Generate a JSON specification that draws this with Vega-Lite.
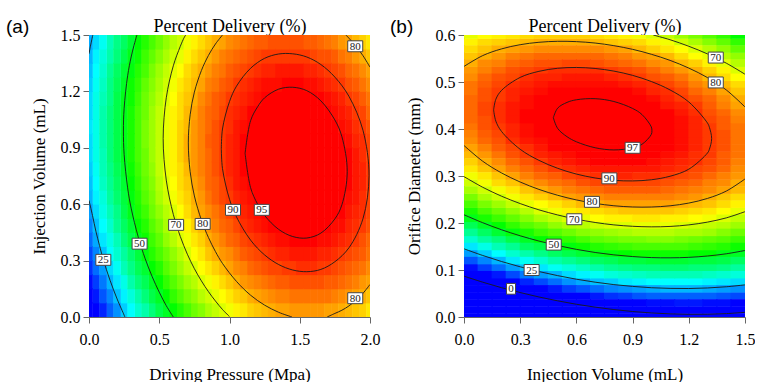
{
"$schema":"https://vega.github.io/schema/vega-lite/v6.json",
"padding":{"left":6,"top":17,"right":0,"bottom":0},
"config":{"view":{"stroke":null},"axis":{"labelFont":"Liberation Serif, Times New Roman, serif","labelFontSize":16,"labelColor":"#000","titleFont":"Liberation Serif, Times New Roman, serif","titleFontSize":17,"titleFontWeight":"normal","titleColor":"#000","tickColor":"#666","domainColor":"#666","tickSize":6,"grid":false,"labelFlush":false}},
"datasets":{
"a":[
{"x":0.05,"y":0.0375,"v":8},{"x":0.05,"y":0.1125,"v":12},{"x":0.05,"y":0.1875,"v":15},{"x":0.05,"y":0.2625,"v":19},{"x":0.05,"y":0.3375,"v":21},{"x":0.05,"y":0.4125,"v":24},{"x":0.05,"y":0.4875,"v":26},{"x":0.05,"y":0.5625,"v":28},{"x":0.05,"y":0.6375,"v":30},{"x":0.05,"y":0.7125,"v":31},{"x":0.05,"y":0.7875,"v":32},{"x":0.05,"y":0.8625,"v":33},{"x":0.05,"y":0.9375,"v":33},{"x":0.05,"y":1.0125,"v":33},{"x":0.05,"y":1.0875,"v":33},{"x":0.05,"y":1.1625,"v":33},{"x":0.05,"y":1.2375,"v":32},{"x":0.05,"y":1.3125,"v":31},{"x":0.05,"y":1.3875,"v":30},{"x":0.05,"y":1.4625,"v":28},
{"x":0.15,"y":0.0375,"v":18},{"x":0.15,"y":0.1125,"v":21},{"x":0.15,"y":0.1875,"v":25},{"x":0.15,"y":0.2625,"v":28},{"x":0.15,"y":0.3375,"v":31},{"x":0.15,"y":0.4125,"v":33},{"x":0.15,"y":0.4875,"v":35},{"x":0.15,"y":0.5625,"v":37},{"x":0.15,"y":0.6375,"v":39},{"x":0.15,"y":0.7125,"v":40},{"x":0.15,"y":0.7875,"v":41},{"x":0.15,"y":0.8625,"v":42},{"x":0.15,"y":0.9375,"v":42},{"x":0.15,"y":1.0125,"v":42},{"x":0.15,"y":1.0875,"v":42},{"x":0.15,"y":1.1625,"v":41},{"x":0.15,"y":1.2375,"v":41},{"x":0.15,"y":1.3125,"v":40},{"x":0.15,"y":1.3875,"v":38},{"x":0.15,"y":1.4625,"v":37},
{"x":0.25,"y":0.0375,"v":27},{"x":0.25,"y":0.1125,"v":30},{"x":0.25,"y":0.1875,"v":33},{"x":0.25,"y":0.2625,"v":37},{"x":0.25,"y":0.3375,"v":39},{"x":0.25,"y":0.4125,"v":42},{"x":0.25,"y":0.4875,"v":44},{"x":0.25,"y":0.5625,"v":46},{"x":0.25,"y":0.6375,"v":47},{"x":0.25,"y":0.7125,"v":48},{"x":0.25,"y":0.7875,"v":49},{"x":0.25,"y":0.8625,"v":50},{"x":0.25,"y":0.9375,"v":50},{"x":0.25,"y":1.0125,"v":50},{"x":0.25,"y":1.0875,"v":50},{"x":0.25,"y":1.1625,"v":50},{"x":0.25,"y":1.2375,"v":49},{"x":0.25,"y":1.3125,"v":48},{"x":0.25,"y":1.3875,"v":46},{"x":0.25,"y":1.4625,"v":44},
{"x":0.35,"y":0.0375,"v":35},{"x":0.35,"y":0.1125,"v":38},{"x":0.35,"y":0.1875,"v":42},{"x":0.35,"y":0.2625,"v":45},{"x":0.35,"y":0.3375,"v":47},{"x":0.35,"y":0.4125,"v":50},{"x":0.35,"y":0.4875,"v":52},{"x":0.35,"y":0.5625,"v":54},{"x":0.35,"y":0.6375,"v":55},{"x":0.35,"y":0.7125,"v":56},{"x":0.35,"y":0.7875,"v":57},{"x":0.35,"y":0.8625,"v":58},{"x":0.35,"y":0.9375,"v":58},{"x":0.35,"y":1.0125,"v":58},{"x":0.35,"y":1.0875,"v":58},{"x":0.35,"y":1.1625,"v":57},{"x":0.35,"y":1.2375,"v":56},{"x":0.35,"y":1.3125,"v":55},{"x":0.35,"y":1.3875,"v":53},{"x":0.35,"y":1.4625,"v":52},
{"x":0.45,"y":0.0375,"v":42},{"x":0.45,"y":0.1125,"v":46},{"x":0.45,"y":0.1875,"v":49},{"x":0.45,"y":0.2625,"v":52},{"x":0.45,"y":0.3375,"v":55},{"x":0.45,"y":0.4125,"v":57},{"x":0.45,"y":0.4875,"v":59},{"x":0.45,"y":0.5625,"v":61},{"x":0.45,"y":0.6375,"v":62},{"x":0.45,"y":0.7125,"v":63},{"x":0.45,"y":0.7875,"v":64},{"x":0.45,"y":0.8625,"v":65},{"x":0.45,"y":0.9375,"v":65},{"x":0.45,"y":1.0125,"v":65},{"x":0.45,"y":1.0875,"v":65},{"x":0.45,"y":1.1625,"v":64},{"x":0.45,"y":1.2375,"v":63},{"x":0.45,"y":1.3125,"v":62},{"x":0.45,"y":1.3875,"v":60},{"x":0.45,"y":1.4625,"v":58},
{"x":0.55,"y":0.0375,"v":49},{"x":0.55,"y":0.1125,"v":52},{"x":0.55,"y":0.1875,"v":56},{"x":0.55,"y":0.2625,"v":59},{"x":0.55,"y":0.3375,"v":61},{"x":0.55,"y":0.4125,"v":64},{"x":0.55,"y":0.4875,"v":66},{"x":0.55,"y":0.5625,"v":67},{"x":0.55,"y":0.6375,"v":69},{"x":0.55,"y":0.7125,"v":70},{"x":0.55,"y":0.7875,"v":71},{"x":0.55,"y":0.8625,"v":71},{"x":0.55,"y":0.9375,"v":71},{"x":0.55,"y":1.0125,"v":71},{"x":0.55,"y":1.0875,"v":71},{"x":0.55,"y":1.1625,"v":70},{"x":0.55,"y":1.2375,"v":69},{"x":0.55,"y":1.3125,"v":68},{"x":0.55,"y":1.3875,"v":66},{"x":0.55,"y":1.4625,"v":64},
{"x":0.65,"y":0.0375,"v":55},{"x":0.65,"y":0.1125,"v":59},{"x":0.65,"y":0.1875,"v":62},{"x":0.65,"y":0.2625,"v":65},{"x":0.65,"y":0.3375,"v":67},{"x":0.65,"y":0.4125,"v":70},{"x":0.65,"y":0.4875,"v":72},{"x":0.65,"y":0.5625,"v":73},{"x":0.65,"y":0.6375,"v":75},{"x":0.65,"y":0.7125,"v":76},{"x":0.65,"y":0.7875,"v":76},{"x":0.65,"y":0.8625,"v":77},{"x":0.65,"y":0.9375,"v":77},{"x":0.65,"y":1.0125,"v":77},{"x":0.65,"y":1.0875,"v":76},{"x":0.65,"y":1.1625,"v":76},{"x":0.65,"y":1.2375,"v":75},{"x":0.65,"y":1.3125,"v":73},{"x":0.65,"y":1.3875,"v":71},{"x":0.65,"y":1.4625,"v":69},
{"x":0.75,"y":0.0375,"v":61},{"x":0.75,"y":0.1125,"v":64},{"x":0.75,"y":0.1875,"v":67},{"x":0.75,"y":0.2625,"v":70},{"x":0.75,"y":0.3375,"v":73},{"x":0.75,"y":0.4125,"v":75},{"x":0.75,"y":0.4875,"v":77},{"x":0.75,"y":0.5625,"v":79},{"x":0.75,"y":0.6375,"v":80},{"x":0.75,"y":0.7125,"v":81},{"x":0.75,"y":0.7875,"v":82},{"x":0.75,"y":0.8625,"v":82},{"x":0.75,"y":0.9375,"v":82},{"x":0.75,"y":1.0125,"v":82},{"x":0.75,"y":1.0875,"v":81},{"x":0.75,"y":1.1625,"v":80},{"x":0.75,"y":1.2375,"v":79},{"x":0.75,"y":1.3125,"v":78},{"x":0.75,"y":1.3875,"v":76},{"x":0.75,"y":1.4625,"v":74},
{"x":0.85,"y":0.0375,"v":66},{"x":0.85,"y":0.1125,"v":69},{"x":0.85,"y":0.1875,"v":72},{"x":0.85,"y":0.2625,"v":75},{"x":0.85,"y":0.3375,"v":78},{"x":0.85,"y":0.4125,"v":80},{"x":0.85,"y":0.4875,"v":82},{"x":0.85,"y":0.5625,"v":83},{"x":0.85,"y":0.6375,"v":85},{"x":0.85,"y":0.7125,"v":86},{"x":0.85,"y":0.7875,"v":86},{"x":0.85,"y":0.8625,"v":86},{"x":0.85,"y":0.9375,"v":87},{"x":0.85,"y":1.0125,"v":86},{"x":0.85,"y":1.0875,"v":86},{"x":0.85,"y":1.1625,"v":85},{"x":0.85,"y":1.2375,"v":84},{"x":0.85,"y":1.3125,"v":82},{"x":0.85,"y":1.3875,"v":80},{"x":0.85,"y":1.4625,"v":78},
{"x":0.95,"y":0.0375,"v":70},{"x":0.95,"y":0.1125,"v":73},{"x":0.95,"y":0.1875,"v":76},{"x":0.95,"y":0.2625,"v":79},{"x":0.95,"y":0.3375,"v":82},{"x":0.95,"y":0.4125,"v":84},{"x":0.95,"y":0.4875,"v":86},{"x":0.95,"y":0.5625,"v":87},{"x":0.95,"y":0.6375,"v":89},{"x":0.95,"y":0.7125,"v":89},{"x":0.95,"y":0.7875,"v":90},{"x":0.95,"y":0.8625,"v":90},{"x":0.95,"y":0.9375,"v":90},{"x":0.95,"y":1.0125,"v":90},{"x":0.95,"y":1.0875,"v":89},{"x":0.95,"y":1.1625,"v":88},{"x":0.95,"y":1.2375,"v":87},{"x":0.95,"y":1.3125,"v":85},{"x":0.95,"y":1.3875,"v":84},{"x":0.95,"y":1.4625,"v":81},
{"x":1.05,"y":0.0375,"v":74},{"x":1.05,"y":0.1125,"v":77},{"x":1.05,"y":0.1875,"v":80},{"x":1.05,"y":0.2625,"v":83},{"x":1.05,"y":0.3375,"v":85},{"x":1.05,"y":0.4125,"v":87},{"x":1.05,"y":0.4875,"v":89},{"x":1.05,"y":0.5625,"v":91},{"x":1.05,"y":0.6375,"v":92},{"x":1.05,"y":0.7125,"v":93},{"x":1.05,"y":0.7875,"v":93},{"x":1.05,"y":0.8625,"v":93},{"x":1.05,"y":0.9375,"v":93},{"x":1.05,"y":1.0125,"v":93},{"x":1.05,"y":1.0875,"v":92},{"x":1.05,"y":1.1625,"v":91},{"x":1.05,"y":1.2375,"v":90},{"x":1.05,"y":1.3125,"v":88},{"x":1.05,"y":1.3875,"v":86},{"x":1.05,"y":1.4625,"v":84},
{"x":1.15,"y":0.0375,"v":77},{"x":1.15,"y":0.1125,"v":80},{"x":1.15,"y":0.1875,"v":83},{"x":1.15,"y":0.2625,"v":86},{"x":1.15,"y":0.3375,"v":88},{"x":1.15,"y":0.4125,"v":90},{"x":1.15,"y":0.4875,"v":92},{"x":1.15,"y":0.5625,"v":93},{"x":1.15,"y":0.6375,"v":94},{"x":1.15,"y":0.7125,"v":95},{"x":1.15,"y":0.7875,"v":96},{"x":1.15,"y":0.8625,"v":96},{"x":1.15,"y":0.9375,"v":96},{"x":1.15,"y":1.0125,"v":95},{"x":1.15,"y":1.0875,"v":95},{"x":1.15,"y":1.1625,"v":93},{"x":1.15,"y":1.2375,"v":92},{"x":1.15,"y":1.3125,"v":90},{"x":1.15,"y":1.3875,"v":88},{"x":1.15,"y":1.4625,"v":86},
{"x":1.25,"y":0.0375,"v":79},{"x":1.25,"y":0.1125,"v":82},{"x":1.25,"y":0.1875,"v":85},{"x":1.25,"y":0.2625,"v":88},{"x":1.25,"y":0.3375,"v":90},{"x":1.25,"y":0.4125,"v":92},{"x":1.25,"y":0.4875,"v":94},{"x":1.25,"y":0.5625,"v":95},{"x":1.25,"y":0.6375,"v":97},{"x":1.25,"y":0.7125,"v":97},{"x":1.25,"y":0.7875,"v":98},{"x":1.25,"y":0.8625,"v":98},{"x":1.25,"y":0.9375,"v":98},{"x":1.25,"y":1.0125,"v":97},{"x":1.25,"y":1.0875,"v":96},{"x":1.25,"y":1.1625,"v":95},{"x":1.25,"y":1.2375,"v":94},{"x":1.25,"y":1.3125,"v":92},{"x":1.25,"y":1.3875,"v":90},{"x":1.25,"y":1.4625,"v":87},
{"x":1.35,"y":0.0375,"v":81},{"x":1.35,"y":0.1125,"v":84},{"x":1.35,"y":0.1875,"v":87},{"x":1.35,"y":0.2625,"v":89},{"x":1.35,"y":0.3375,"v":92},{"x":1.35,"y":0.4125,"v":94},{"x":1.35,"y":0.4875,"v":95},{"x":1.35,"y":0.5625,"v":97},{"x":1.35,"y":0.6375,"v":98},{"x":1.35,"y":0.7125,"v":98},{"x":1.35,"y":0.7875,"v":99},{"x":1.35,"y":0.8625,"v":99},{"x":1.35,"y":0.9375,"v":99},{"x":1.35,"y":1.0125,"v":98},{"x":1.35,"y":1.0875,"v":97},{"x":1.35,"y":1.1625,"v":96},{"x":1.35,"y":1.2375,"v":94},{"x":1.35,"y":1.3125,"v":93},{"x":1.35,"y":1.3875,"v":90},{"x":1.35,"y":1.4625,"v":88},
{"x":1.45,"y":0.0375,"v":82},{"x":1.45,"y":0.1125,"v":85},{"x":1.45,"y":0.1875,"v":88},{"x":1.45,"y":0.2625,"v":90},{"x":1.45,"y":0.3375,"v":93},{"x":1.45,"y":0.4125,"v":95},{"x":1.45,"y":0.4875,"v":96},{"x":1.45,"y":0.5625,"v":98},{"x":1.45,"y":0.6375,"v":99},{"x":1.45,"y":0.7125,"v":99},{"x":1.45,"y":0.7875,"v":100},{"x":1.45,"y":0.8625,"v":100},{"x":1.45,"y":0.9375,"v":99},{"x":1.45,"y":1.0125,"v":99},{"x":1.45,"y":1.0875,"v":98},{"x":1.45,"y":1.1625,"v":96},{"x":1.45,"y":1.2375,"v":95},{"x":1.45,"y":1.3125,"v":93},{"x":1.45,"y":1.3875,"v":90},{"x":1.45,"y":1.4625,"v":88},
{"x":1.55,"y":0.0375,"v":82},{"x":1.55,"y":0.1125,"v":85},{"x":1.55,"y":0.1875,"v":88},{"x":1.55,"y":0.2625,"v":91},{"x":1.55,"y":0.3375,"v":93},{"x":1.55,"y":0.4125,"v":95},{"x":1.55,"y":0.4875,"v":96},{"x":1.55,"y":0.5625,"v":98},{"x":1.55,"y":0.6375,"v":99},{"x":1.55,"y":0.7125,"v":99},{"x":1.55,"y":0.7875,"v":99},{"x":1.55,"y":0.8625,"v":99},{"x":1.55,"y":0.9375,"v":99},{"x":1.55,"y":1.0125,"v":98},{"x":1.55,"y":1.0875,"v":97},{"x":1.55,"y":1.1625,"v":96},{"x":1.55,"y":1.2375,"v":94},{"x":1.55,"y":1.3125,"v":92},{"x":1.55,"y":1.3875,"v":90},{"x":1.55,"y":1.4625,"v":87},
{"x":1.65,"y":0.0375,"v":82},{"x":1.65,"y":0.1125,"v":85},{"x":1.65,"y":0.1875,"v":88},{"x":1.65,"y":0.2625,"v":90},{"x":1.65,"y":0.3375,"v":92},{"x":1.65,"y":0.4125,"v":94},{"x":1.65,"y":0.4875,"v":96},{"x":1.65,"y":0.5625,"v":97},{"x":1.65,"y":0.6375,"v":98},{"x":1.65,"y":0.7125,"v":98},{"x":1.65,"y":0.7875,"v":99},{"x":1.65,"y":0.8625,"v":98},{"x":1.65,"y":0.9375,"v":98},{"x":1.65,"y":1.0125,"v":97},{"x":1.65,"y":1.0875,"v":96},{"x":1.65,"y":1.1625,"v":95},{"x":1.65,"y":1.2375,"v":93},{"x":1.65,"y":1.3125,"v":91},{"x":1.65,"y":1.3875,"v":88},{"x":1.65,"y":1.4625,"v":86},
{"x":1.75,"y":0.0375,"v":81},{"x":1.75,"y":0.1125,"v":84},{"x":1.75,"y":0.1875,"v":87},{"x":1.75,"y":0.2625,"v":89},{"x":1.75,"y":0.3375,"v":91},{"x":1.75,"y":0.4125,"v":93},{"x":1.75,"y":0.4875,"v":94},{"x":1.75,"y":0.5625,"v":96},{"x":1.75,"y":0.6375,"v":96},{"x":1.75,"y":0.7125,"v":97},{"x":1.75,"y":0.7875,"v":97},{"x":1.75,"y":0.8625,"v":97},{"x":1.75,"y":0.9375,"v":96},{"x":1.75,"y":1.0125,"v":96},{"x":1.75,"y":1.0875,"v":94},{"x":1.75,"y":1.1625,"v":93},{"x":1.75,"y":1.2375,"v":91},{"x":1.75,"y":1.3125,"v":89},{"x":1.75,"y":1.3875,"v":87},{"x":1.75,"y":1.4625,"v":84},
{"x":1.85,"y":0.0375,"v":79},{"x":1.85,"y":0.1125,"v":82},{"x":1.85,"y":0.1875,"v":85},{"x":1.85,"y":0.2625,"v":87},{"x":1.85,"y":0.3375,"v":89},{"x":1.85,"y":0.4125,"v":91},{"x":1.85,"y":0.4875,"v":92},{"x":1.85,"y":0.5625,"v":93},{"x":1.85,"y":0.6375,"v":94},{"x":1.85,"y":0.7125,"v":95},{"x":1.85,"y":0.7875,"v":95},{"x":1.85,"y":0.8625,"v":95},{"x":1.85,"y":0.9375,"v":94},{"x":1.85,"y":1.0125,"v":93},{"x":1.85,"y":1.0875,"v":92},{"x":1.85,"y":1.1625,"v":90},{"x":1.85,"y":1.2375,"v":88},{"x":1.85,"y":1.3125,"v":86},{"x":1.85,"y":1.3875,"v":84},{"x":1.85,"y":1.4625,"v":81},
{"x":1.95,"y":0.0375,"v":77},{"x":1.95,"y":0.1125,"v":80},{"x":1.95,"y":0.1875,"v":82},{"x":1.95,"y":0.2625,"v":85},{"x":1.95,"y":0.3375,"v":87},{"x":1.95,"y":0.4125,"v":88},{"x":1.95,"y":0.4875,"v":90},{"x":1.95,"y":0.5625,"v":91},{"x":1.95,"y":0.6375,"v":91},{"x":1.95,"y":0.7125,"v":92},{"x":1.95,"y":0.7875,"v":92},{"x":1.95,"y":0.8625,"v":91},{"x":1.95,"y":0.9375,"v":91},{"x":1.95,"y":1.0125,"v":90},{"x":1.95,"y":1.0875,"v":89},{"x":1.95,"y":1.1625,"v":87},{"x":1.95,"y":1.2375,"v":85},{"x":1.95,"y":1.3125,"v":83},{"x":1.95,"y":1.3875,"v":80},{"x":1.95,"y":1.4625,"v":77},
{"x":0,"y":0.0375,"v":3},{"x":0,"y":0.1125,"v":7},{"x":0,"y":0.1875,"v":11},{"x":0,"y":0.2625,"v":14},{"x":0,"y":0.3375,"v":16},{"x":0,"y":0.4125,"v":19},{"x":0,"y":0.4875,"v":21},{"x":0,"y":0.5625,"v":23},{"x":0,"y":0.6375,"v":25},{"x":0,"y":0.7125,"v":26},{"x":0,"y":0.7875,"v":27},{"x":0,"y":0.8625,"v":28},{"x":0,"y":0.9375,"v":28},{"x":0,"y":1.0125,"v":29},{"x":0,"y":1.0875,"v":28},{"x":0,"y":1.1625,"v":28},{"x":0,"y":1.2375,"v":27},{"x":0,"y":1.3125,"v":26},{"x":0,"y":1.3875,"v":25},{"x":0,"y":1.4625,"v":24},
{"x":0.1,"y":0.0375,"v":13},{"x":0.1,"y":0.1125,"v":17},{"x":0.1,"y":0.1875,"v":20},{"x":0.1,"y":0.2625,"v":23},{"x":0.1,"y":0.3375,"v":26},{"x":0.1,"y":0.4125,"v":29},{"x":0.1,"y":0.4875,"v":31},{"x":0.1,"y":0.5625,"v":33},{"x":0.1,"y":0.6375,"v":34},{"x":0.1,"y":0.7125,"v":36},{"x":0.1,"y":0.7875,"v":37},{"x":0.1,"y":0.8625,"v":37},{"x":0.1,"y":0.9375,"v":38},{"x":0.1,"y":1.0125,"v":38},{"x":0.1,"y":1.0875,"v":38},{"x":0.1,"y":1.1625,"v":37},{"x":0.1,"y":1.2375,"v":36},{"x":0.1,"y":1.3125,"v":35},{"x":0.1,"y":1.3875,"v":34},{"x":0.1,"y":1.4625,"v":32},
{"x":0.2,"y":0.0375,"v":22},{"x":0.2,"y":0.1125,"v":26},{"x":0.2,"y":0.1875,"v":29},{"x":0.2,"y":0.2625,"v":32},{"x":0.2,"y":0.3375,"v":35},{"x":0.2,"y":0.4125,"v":37},{"x":0.2,"y":0.4875,"v":40},{"x":0.2,"y":0.5625,"v":41},{"x":0.2,"y":0.6375,"v":43},{"x":0.2,"y":0.7125,"v":44},{"x":0.2,"y":0.7875,"v":45},{"x":0.2,"y":0.8625,"v":46},{"x":0.2,"y":0.9375,"v":46},{"x":0.2,"y":1.0125,"v":46},{"x":0.2,"y":1.0875,"v":46},{"x":0.2,"y":1.1625,"v":46},{"x":0.2,"y":1.2375,"v":45},{"x":0.2,"y":1.3125,"v":44},{"x":0.2,"y":1.3875,"v":42},{"x":0.2,"y":1.4625,"v":41},
{"x":0.3,"y":0.0375,"v":31},{"x":0.3,"y":0.1125,"v":34},{"x":0.3,"y":0.1875,"v":38},{"x":0.3,"y":0.2625,"v":41},{"x":0.3,"y":0.3375,"v":43},{"x":0.3,"y":0.4125,"v":46},{"x":0.3,"y":0.4875,"v":48},{"x":0.3,"y":0.5625,"v":50},{"x":0.3,"y":0.6375,"v":51},{"x":0.3,"y":0.7125,"v":52},{"x":0.3,"y":0.7875,"v":53},{"x":0.3,"y":0.8625,"v":54},{"x":0.3,"y":0.9375,"v":54},{"x":0.3,"y":1.0125,"v":54},{"x":0.3,"y":1.0875,"v":54},{"x":0.3,"y":1.1625,"v":53},{"x":0.3,"y":1.2375,"v":53},{"x":0.3,"y":1.3125,"v":51},{"x":0.3,"y":1.3875,"v":50},{"x":0.3,"y":1.4625,"v":48},
{"x":0.4,"y":0.0375,"v":38},{"x":0.4,"y":0.1125,"v":42},{"x":0.4,"y":0.1875,"v":45},{"x":0.4,"y":0.2625,"v":48},{"x":0.4,"y":0.3375,"v":51},{"x":0.4,"y":0.4125,"v":53},{"x":0.4,"y":0.4875,"v":55},{"x":0.4,"y":0.5625,"v":57},{"x":0.4,"y":0.6375,"v":59},{"x":0.4,"y":0.7125,"v":60},{"x":0.4,"y":0.7875,"v":61},{"x":0.4,"y":0.8625,"v":61},{"x":0.4,"y":0.9375,"v":62},{"x":0.4,"y":1.0125,"v":62},{"x":0.4,"y":1.0875,"v":61},{"x":0.4,"y":1.1625,"v":61},{"x":0.4,"y":1.2375,"v":60},{"x":0.4,"y":1.3125,"v":58},{"x":0.4,"y":1.3875,"v":57},{"x":0.4,"y":1.4625,"v":55},
{"x":0.5,"y":0.0375,"v":46},{"x":0.5,"y":0.1125,"v":49},{"x":0.5,"y":0.1875,"v":52},{"x":0.5,"y":0.2625,"v":55},{"x":0.5,"y":0.3375,"v":58},{"x":0.5,"y":0.4125,"v":60},{"x":0.5,"y":0.4875,"v":62},{"x":0.5,"y":0.5625,"v":64},{"x":0.5,"y":0.6375,"v":66},{"x":0.5,"y":0.7125,"v":67},{"x":0.5,"y":0.7875,"v":68},{"x":0.5,"y":0.8625,"v":68},{"x":0.5,"y":0.9375,"v":68},{"x":0.5,"y":1.0125,"v":68},{"x":0.5,"y":1.0875,"v":68},{"x":0.5,"y":1.1625,"v":67},{"x":0.5,"y":1.2375,"v":66},{"x":0.5,"y":1.3125,"v":65},{"x":0.5,"y":1.3875,"v":63},{"x":0.5,"y":1.4625,"v":61},
{"x":0.6,"y":0.0375,"v":52},{"x":0.6,"y":0.1125,"v":56},{"x":0.6,"y":0.1875,"v":59},{"x":0.6,"y":0.2625,"v":62},{"x":0.6,"y":0.3375,"v":64},{"x":0.6,"y":0.4125,"v":67},{"x":0.6,"y":0.4875,"v":69},{"x":0.6,"y":0.5625,"v":70},{"x":0.6,"y":0.6375,"v":72},{"x":0.6,"y":0.7125,"v":73},{"x":0.6,"y":0.7875,"v":74},{"x":0.6,"y":0.8625,"v":74},{"x":0.6,"y":0.9375,"v":74},{"x":0.6,"y":1.0125,"v":74},{"x":0.6,"y":1.0875,"v":74},{"x":0.6,"y":1.1625,"v":73},{"x":0.6,"y":1.2375,"v":72},{"x":0.6,"y":1.3125,"v":71},{"x":0.6,"y":1.3875,"v":69},{"x":0.6,"y":1.4625,"v":67},
{"x":0.7,"y":0.0375,"v":58},{"x":0.7,"y":0.1125,"v":62},{"x":0.7,"y":0.1875,"v":65},{"x":0.7,"y":0.2625,"v":68},{"x":0.7,"y":0.3375,"v":70},{"x":0.7,"y":0.4125,"v":72},{"x":0.7,"y":0.4875,"v":74},{"x":0.7,"y":0.5625,"v":76},{"x":0.7,"y":0.6375,"v":77},{"x":0.7,"y":0.7125,"v":78},{"x":0.7,"y":0.7875,"v":79},{"x":0.7,"y":0.8625,"v":80},{"x":0.7,"y":0.9375,"v":80},{"x":0.7,"y":1.0125,"v":79},{"x":0.7,"y":1.0875,"v":79},{"x":0.7,"y":1.1625,"v":78},{"x":0.7,"y":1.2375,"v":77},{"x":0.7,"y":1.3125,"v":76},{"x":0.7,"y":1.3875,"v":74},{"x":0.7,"y":1.4625,"v":72},
{"x":0.8,"y":0.0375,"v":63},{"x":0.8,"y":0.1125,"v":67},{"x":0.8,"y":0.1875,"v":70},{"x":0.8,"y":0.2625,"v":73},{"x":0.8,"y":0.3375,"v":75},{"x":0.8,"y":0.4125,"v":77},{"x":0.8,"y":0.4875,"v":79},{"x":0.8,"y":0.5625,"v":81},{"x":0.8,"y":0.6375,"v":82},{"x":0.8,"y":0.7125,"v":83},{"x":0.8,"y":0.7875,"v":84},{"x":0.8,"y":0.8625,"v":84},{"x":0.8,"y":0.9375,"v":84},{"x":0.8,"y":1.0125,"v":84},{"x":0.8,"y":1.0875,"v":84},{"x":0.8,"y":1.1625,"v":83},{"x":0.8,"y":1.2375,"v":81},{"x":0.8,"y":1.3125,"v":80},{"x":0.8,"y":1.3875,"v":78},{"x":0.8,"y":1.4625,"v":76},
{"x":0.9,"y":0.0375,"v":68},{"x":0.9,"y":0.1125,"v":71},{"x":0.9,"y":0.1875,"v":74},{"x":0.9,"y":0.2625,"v":77},{"x":0.9,"y":0.3375,"v":80},{"x":0.9,"y":0.4125,"v":82},{"x":0.9,"y":0.4875,"v":84},{"x":0.9,"y":0.5625,"v":85},{"x":0.9,"y":0.6375,"v":87},{"x":0.9,"y":0.7125,"v":87},{"x":0.9,"y":0.7875,"v":88},{"x":0.9,"y":0.8625,"v":88},{"x":0.9,"y":0.9375,"v":88},{"x":0.9,"y":1.0125,"v":88},{"x":0.9,"y":1.0875,"v":87},{"x":0.9,"y":1.1625,"v":87},{"x":0.9,"y":1.2375,"v":85},{"x":0.9,"y":1.3125,"v":84},{"x":0.9,"y":1.3875,"v":82},{"x":0.9,"y":1.4625,"v":80},
{"x":1.0,"y":0.0375,"v":72},{"x":1.0,"y":0.1125,"v":75},{"x":1.0,"y":0.1875,"v":78},{"x":1.0,"y":0.2625,"v":81},{"x":1.0,"y":0.3375,"v":83},{"x":1.0,"y":0.4125,"v":86},{"x":1.0,"y":0.4875,"v":87},{"x":1.0,"y":0.5625,"v":89},{"x":1.0,"y":0.6375,"v":90},{"x":1.0,"y":0.7125,"v":91},{"x":1.0,"y":0.7875,"v":92},{"x":1.0,"y":0.8625,"v":92},{"x":1.0,"y":0.9375,"v":92},{"x":1.0,"y":1.0125,"v":91},{"x":1.0,"y":1.0875,"v":91},{"x":1.0,"y":1.1625,"v":90},{"x":1.0,"y":1.2375,"v":88},{"x":1.0,"y":1.3125,"v":87},{"x":1.0,"y":1.3875,"v":85},{"x":1.0,"y":1.4625,"v":83},
{"x":1.1,"y":0.0375,"v":75},{"x":1.1,"y":0.1125,"v":78},{"x":1.1,"y":0.1875,"v":82},{"x":1.1,"y":0.2625,"v":84},{"x":1.1,"y":0.3375,"v":87},{"x":1.1,"y":0.4125,"v":89},{"x":1.1,"y":0.4875,"v":91},{"x":1.1,"y":0.5625,"v":92},{"x":1.1,"y":0.6375,"v":93},{"x":1.1,"y":0.7125,"v":94},{"x":1.1,"y":0.7875,"v":95},{"x":1.1,"y":0.8625,"v":95},{"x":1.1,"y":0.9375,"v":95},{"x":1.1,"y":1.0125,"v":94},{"x":1.1,"y":1.0875,"v":93},{"x":1.1,"y":1.1625,"v":92},{"x":1.1,"y":1.2375,"v":91},{"x":1.1,"y":1.3125,"v":89},{"x":1.1,"y":1.3875,"v":87},{"x":1.1,"y":1.4625,"v":85},
{"x":1.2,"y":0.0375,"v":78},{"x":1.2,"y":0.1125,"v":81},{"x":1.2,"y":0.1875,"v":84},{"x":1.2,"y":0.2625,"v":87},{"x":1.2,"y":0.3375,"v":89},{"x":1.2,"y":0.4125,"v":91},{"x":1.2,"y":0.4875,"v":93},{"x":1.2,"y":0.5625,"v":94},{"x":1.2,"y":0.6375,"v":96},{"x":1.2,"y":0.7125,"v":96},{"x":1.2,"y":0.7875,"v":97},{"x":1.2,"y":0.8625,"v":97},{"x":1.2,"y":0.9375,"v":97},{"x":1.2,"y":1.0125,"v":96},{"x":1.2,"y":1.0875,"v":95},{"x":1.2,"y":1.1625,"v":94},{"x":1.2,"y":1.2375,"v":93},{"x":1.2,"y":1.3125,"v":91},{"x":1.2,"y":1.3875,"v":89},{"x":1.2,"y":1.4625,"v":87},
{"x":1.3,"y":0.0375,"v":80},{"x":1.3,"y":0.1125,"v":83},{"x":1.3,"y":0.1875,"v":86},{"x":1.3,"y":0.2625,"v":89},{"x":1.3,"y":0.3375,"v":91},{"x":1.3,"y":0.4125,"v":93},{"x":1.3,"y":0.4875,"v":95},{"x":1.3,"y":0.5625,"v":96},{"x":1.3,"y":0.6375,"v":97},{"x":1.3,"y":0.7125,"v":98},{"x":1.3,"y":0.7875,"v":98},{"x":1.3,"y":0.8625,"v":98},{"x":1.3,"y":0.9375,"v":98},{"x":1.3,"y":1.0125,"v":98},{"x":1.3,"y":1.0875,"v":97},{"x":1.3,"y":1.1625,"v":96},{"x":1.3,"y":1.2375,"v":94},{"x":1.3,"y":1.3125,"v":92},{"x":1.3,"y":1.3875,"v":90},{"x":1.3,"y":1.4625,"v":88},
{"x":1.4,"y":0.0375,"v":81},{"x":1.4,"y":0.1125,"v":84},{"x":1.4,"y":0.1875,"v":87},{"x":1.4,"y":0.2625,"v":90},{"x":1.4,"y":0.3375,"v":92},{"x":1.4,"y":0.4125,"v":94},{"x":1.4,"y":0.4875,"v":96},{"x":1.4,"y":0.5625,"v":97},{"x":1.4,"y":0.6375,"v":98},{"x":1.4,"y":0.7125,"v":99},{"x":1.4,"y":0.7875,"v":99},{"x":1.4,"y":0.8625,"v":99},{"x":1.4,"y":0.9375,"v":99},{"x":1.4,"y":1.0125,"v":98},{"x":1.4,"y":1.0875,"v":97},{"x":1.4,"y":1.1625,"v":96},{"x":1.4,"y":1.2375,"v":95},{"x":1.4,"y":1.3125,"v":93},{"x":1.4,"y":1.3875,"v":90},{"x":1.4,"y":1.4625,"v":88},
{"x":1.5,"y":0.0375,"v":82},{"x":1.5,"y":0.1125,"v":85},{"x":1.5,"y":0.1875,"v":88},{"x":1.5,"y":0.2625,"v":91},{"x":1.5,"y":0.3375,"v":93},{"x":1.5,"y":0.4125,"v":95},{"x":1.5,"y":0.4875,"v":96},{"x":1.5,"y":0.5625,"v":98},{"x":1.5,"y":0.6375,"v":99},{"x":1.5,"y":0.7125,"v":99},{"x":1.5,"y":0.7875,"v":100},{"x":1.5,"y":0.8625,"v":100},{"x":1.5,"y":0.9375,"v":99},{"x":1.5,"y":1.0125,"v":99},{"x":1.5,"y":1.0875,"v":98},{"x":1.5,"y":1.1625,"v":96},{"x":1.5,"y":1.2375,"v":95},{"x":1.5,"y":1.3125,"v":93},{"x":1.5,"y":1.3875,"v":90},{"x":1.5,"y":1.4625,"v":88},
{"x":1.6,"y":0.0375,"v":82},{"x":1.6,"y":0.1125,"v":85},{"x":1.6,"y":0.1875,"v":88},{"x":1.6,"y":0.2625,"v":91},{"x":1.6,"y":0.3375,"v":93},{"x":1.6,"y":0.4125,"v":95},{"x":1.6,"y":0.4875,"v":96},{"x":1.6,"y":0.5625,"v":97},{"x":1.6,"y":0.6375,"v":98},{"x":1.6,"y":0.7125,"v":99},{"x":1.6,"y":0.7875,"v":99},{"x":1.6,"y":0.8625,"v":99},{"x":1.6,"y":0.9375,"v":99},{"x":1.6,"y":1.0125,"v":98},{"x":1.6,"y":1.0875,"v":97},{"x":1.6,"y":1.1625,"v":95},{"x":1.6,"y":1.2375,"v":94},{"x":1.6,"y":1.3125,"v":92},{"x":1.6,"y":1.3875,"v":89},{"x":1.6,"y":1.4625,"v":87},
{"x":1.7,"y":0.0375,"v":81},{"x":1.7,"y":0.1125,"v":85},{"x":1.7,"y":0.1875,"v":87},{"x":1.7,"y":0.2625,"v":90},{"x":1.7,"y":0.3375,"v":92},{"x":1.7,"y":0.4125,"v":94},{"x":1.7,"y":0.4875,"v":95},{"x":1.7,"y":0.5625,"v":96},{"x":1.7,"y":0.6375,"v":97},{"x":1.7,"y":0.7125,"v":98},{"x":1.7,"y":0.7875,"v":98},{"x":1.7,"y":0.8625,"v":98},{"x":1.7,"y":0.9375,"v":97},{"x":1.7,"y":1.0125,"v":97},{"x":1.7,"y":1.0875,"v":95},{"x":1.7,"y":1.1625,"v":94},{"x":1.7,"y":1.2375,"v":92},{"x":1.7,"y":1.3125,"v":90},{"x":1.7,"y":1.3875,"v":88},{"x":1.7,"y":1.4625,"v":85},
{"x":1.8,"y":0.0375,"v":80},{"x":1.8,"y":0.1125,"v":83},{"x":1.8,"y":0.1875,"v":86},{"x":1.8,"y":0.2625,"v":88},{"x":1.8,"y":0.3375,"v":90},{"x":1.8,"y":0.4125,"v":92},{"x":1.8,"y":0.4875,"v":94},{"x":1.8,"y":0.5625,"v":95},{"x":1.8,"y":0.6375,"v":95},{"x":1.8,"y":0.7125,"v":96},{"x":1.8,"y":0.7875,"v":96},{"x":1.8,"y":0.8625,"v":96},{"x":1.8,"y":0.9375,"v":95},{"x":1.8,"y":1.0125,"v":94},{"x":1.8,"y":1.0875,"v":93},{"x":1.8,"y":1.1625,"v":92},{"x":1.8,"y":1.2375,"v":90},{"x":1.8,"y":1.3125,"v":88},{"x":1.8,"y":1.3875,"v":85},{"x":1.8,"y":1.4625,"v":82},
{"x":1.9,"y":0.0375,"v":78},{"x":1.9,"y":0.1125,"v":81},{"x":1.9,"y":0.1875,"v":84},{"x":1.9,"y":0.2625,"v":86},{"x":1.9,"y":0.3375,"v":88},{"x":1.9,"y":0.4125,"v":90},{"x":1.9,"y":0.4875,"v":91},{"x":1.9,"y":0.5625,"v":92},{"x":1.9,"y":0.6375,"v":93},{"x":1.9,"y":0.7125,"v":93},{"x":1.9,"y":0.7875,"v":93},{"x":1.9,"y":0.8625,"v":93},{"x":1.9,"y":0.9375,"v":92},{"x":1.9,"y":1.0125,"v":91},{"x":1.9,"y":1.0875,"v":90},{"x":1.9,"y":1.1625,"v":89},{"x":1.9,"y":1.2375,"v":87},{"x":1.9,"y":1.3125,"v":85},{"x":1.9,"y":1.3875,"v":82},{"x":1.9,"y":1.4625,"v":79},
{"x":2.0,"y":0.0375,"v":75},{"x":2.0,"y":0.1125,"v":78},{"x":2.0,"y":0.1875,"v":81},{"x":2.0,"y":0.2625,"v":83},{"x":2.0,"y":0.3375,"v":85},{"x":2.0,"y":0.4125,"v":86},{"x":2.0,"y":0.4875,"v":88},{"x":2.0,"y":0.5625,"v":89},{"x":2.0,"y":0.6375,"v":89},{"x":2.0,"y":0.7125,"v":90},{"x":2.0,"y":0.7875,"v":90},{"x":2.0,"y":0.8625,"v":89},{"x":2.0,"y":0.9375,"v":89},{"x":2.0,"y":1.0125,"v":88},{"x":2.0,"y":1.0875,"v":86},{"x":2.0,"y":1.1625,"v":85},{"x":2.0,"y":1.2375,"v":83},{"x":2.0,"y":1.3125,"v":81},{"x":2.0,"y":1.3875,"v":78},{"x":2.0,"y":1.4625,"v":75}
],
"b":[
{"x":0.0375,"y":0.015,"v":-34},{"x":0.0375,"y":0.045,"v":-18},{"x":0.0375,"y":0.075,"v":-3},{"x":0.0375,"y":0.105,"v":11},{"x":0.0375,"y":0.135,"v":23},{"x":0.0375,"y":0.165,"v":35},{"x":0.0375,"y":0.195,"v":45},{"x":0.0375,"y":0.225,"v":54},{"x":0.0375,"y":0.255,"v":62},{"x":0.0375,"y":0.285,"v":69},{"x":0.0375,"y":0.315,"v":75},{"x":0.0375,"y":0.345,"v":79},{"x":0.0375,"y":0.375,"v":83},{"x":0.0375,"y":0.405,"v":85},{"x":0.0375,"y":0.435,"v":86},{"x":0.0375,"y":0.465,"v":86},{"x":0.0375,"y":0.495,"v":85},{"x":0.0375,"y":0.525,"v":82},{"x":0.0375,"y":0.555,"v":78},{"x":0.0375,"y":0.585,"v":74},
{"x":0.1125,"y":0.015,"v":-30},{"x":0.1125,"y":0.045,"v":-14},{"x":0.1125,"y":0.075,"v":1},{"x":0.1125,"y":0.105,"v":15},{"x":0.1125,"y":0.135,"v":27},{"x":0.1125,"y":0.165,"v":39},{"x":0.1125,"y":0.195,"v":49},{"x":0.1125,"y":0.225,"v":58},{"x":0.1125,"y":0.255,"v":66},{"x":0.1125,"y":0.285,"v":72},{"x":0.1125,"y":0.315,"v":78},{"x":0.1125,"y":0.345,"v":82},{"x":0.1125,"y":0.375,"v":86},{"x":0.1125,"y":0.405,"v":88},{"x":0.1125,"y":0.435,"v":89},{"x":0.1125,"y":0.465,"v":88},{"x":0.1125,"y":0.495,"v":87},{"x":0.1125,"y":0.525,"v":84},{"x":0.1125,"y":0.555,"v":80},{"x":0.1125,"y":0.585,"v":76},
{"x":0.1875,"y":0.015,"v":-25},{"x":0.1875,"y":0.045,"v":-9},{"x":0.1875,"y":0.075,"v":5},{"x":0.1875,"y":0.105,"v":19},{"x":0.1875,"y":0.135,"v":31},{"x":0.1875,"y":0.165,"v":42},{"x":0.1875,"y":0.195,"v":52},{"x":0.1875,"y":0.225,"v":61},{"x":0.1875,"y":0.255,"v":69},{"x":0.1875,"y":0.285,"v":76},{"x":0.1875,"y":0.315,"v":81},{"x":0.1875,"y":0.345,"v":85},{"x":0.1875,"y":0.375,"v":88},{"x":0.1875,"y":0.405,"v":90},{"x":0.1875,"y":0.435,"v":91},{"x":0.1875,"y":0.465,"v":90},{"x":0.1875,"y":0.495,"v":89},{"x":0.1875,"y":0.525,"v":86},{"x":0.1875,"y":0.555,"v":82},{"x":0.1875,"y":0.585,"v":77},
{"x":0.2625,"y":0.015,"v":-21},{"x":0.2625,"y":0.045,"v":-5},{"x":0.2625,"y":0.075,"v":9},{"x":0.2625,"y":0.105,"v":23},{"x":0.2625,"y":0.135,"v":35},{"x":0.2625,"y":0.165,"v":46},{"x":0.2625,"y":0.195,"v":56},{"x":0.2625,"y":0.225,"v":64},{"x":0.2625,"y":0.255,"v":72},{"x":0.2625,"y":0.285,"v":78},{"x":0.2625,"y":0.315,"v":84},{"x":0.2625,"y":0.345,"v":88},{"x":0.2625,"y":0.375,"v":91},{"x":0.2625,"y":0.405,"v":92},{"x":0.2625,"y":0.435,"v":93},{"x":0.2625,"y":0.465,"v":92},{"x":0.2625,"y":0.495,"v":91},{"x":0.2625,"y":0.525,"v":88},{"x":0.2625,"y":0.555,"v":84},{"x":0.2625,"y":0.585,"v":78},
{"x":0.3375,"y":0.015,"v":-17},{"x":0.3375,"y":0.045,"v":-2},{"x":0.3375,"y":0.075,"v":13},{"x":0.3375,"y":0.105,"v":26},{"x":0.3375,"y":0.135,"v":38},{"x":0.3375,"y":0.165,"v":49},{"x":0.3375,"y":0.195,"v":59},{"x":0.3375,"y":0.225,"v":67},{"x":0.3375,"y":0.255,"v":75},{"x":0.3375,"y":0.285,"v":81},{"x":0.3375,"y":0.315,"v":86},{"x":0.3375,"y":0.345,"v":90},{"x":0.3375,"y":0.375,"v":93},{"x":0.3375,"y":0.405,"v":94},{"x":0.3375,"y":0.435,"v":95},{"x":0.3375,"y":0.465,"v":94},{"x":0.3375,"y":0.495,"v":92},{"x":0.3375,"y":0.525,"v":89},{"x":0.3375,"y":0.555,"v":85},{"x":0.3375,"y":0.585,"v":79},
{"x":0.4125,"y":0.015,"v":-14},{"x":0.4125,"y":0.045,"v":2},{"x":0.4125,"y":0.075,"v":16},{"x":0.4125,"y":0.105,"v":29},{"x":0.4125,"y":0.135,"v":41},{"x":0.4125,"y":0.165,"v":52},{"x":0.4125,"y":0.195,"v":61},{"x":0.4125,"y":0.225,"v":70},{"x":0.4125,"y":0.255,"v":77},{"x":0.4125,"y":0.285,"v":83},{"x":0.4125,"y":0.315,"v":88},{"x":0.4125,"y":0.345,"v":92},{"x":0.4125,"y":0.375,"v":94},{"x":0.4125,"y":0.405,"v":96},{"x":0.4125,"y":0.435,"v":96},{"x":0.4125,"y":0.465,"v":95},{"x":0.4125,"y":0.495,"v":93},{"x":0.4125,"y":0.525,"v":90},{"x":0.4125,"y":0.555,"v":86},{"x":0.4125,"y":0.585,"v":80},
{"x":0.4875,"y":0.015,"v":-10},{"x":0.4875,"y":0.045,"v":5},{"x":0.4875,"y":0.075,"v":19},{"x":0.4875,"y":0.105,"v":32},{"x":0.4875,"y":0.135,"v":44},{"x":0.4875,"y":0.165,"v":54},{"x":0.4875,"y":0.195,"v":64},{"x":0.4875,"y":0.225,"v":72},{"x":0.4875,"y":0.255,"v":79},{"x":0.4875,"y":0.285,"v":85},{"x":0.4875,"y":0.315,"v":90},{"x":0.4875,"y":0.345,"v":93},{"x":0.4875,"y":0.375,"v":96},{"x":0.4875,"y":0.405,"v":97},{"x":0.4875,"y":0.435,"v":97},{"x":0.4875,"y":0.465,"v":96},{"x":0.4875,"y":0.495,"v":94},{"x":0.4875,"y":0.525,"v":91},{"x":0.4875,"y":0.555,"v":86},{"x":0.4875,"y":0.585,"v":80},
{"x":0.5625,"y":0.015,"v":-8},{"x":0.5625,"y":0.045,"v":8},{"x":0.5625,"y":0.075,"v":22},{"x":0.5625,"y":0.105,"v":34},{"x":0.5625,"y":0.135,"v":46},{"x":0.5625,"y":0.165,"v":56},{"x":0.5625,"y":0.195,"v":66},{"x":0.5625,"y":0.225,"v":74},{"x":0.5625,"y":0.255,"v":81},{"x":0.5625,"y":0.285,"v":86},{"x":0.5625,"y":0.315,"v":91},{"x":0.5625,"y":0.345,"v":94},{"x":0.5625,"y":0.375,"v":97},{"x":0.5625,"y":0.405,"v":98},{"x":0.5625,"y":0.435,"v":98},{"x":0.5625,"y":0.465,"v":97},{"x":0.5625,"y":0.495,"v":94},{"x":0.5625,"y":0.525,"v":91},{"x":0.5625,"y":0.555,"v":86},{"x":0.5625,"y":0.585,"v":80},
{"x":0.6375,"y":0.015,"v":-5},{"x":0.6375,"y":0.045,"v":10},{"x":0.6375,"y":0.075,"v":24},{"x":0.6375,"y":0.105,"v":36},{"x":0.6375,"y":0.135,"v":48},{"x":0.6375,"y":0.165,"v":58},{"x":0.6375,"y":0.195,"v":67},{"x":0.6375,"y":0.225,"v":75},{"x":0.6375,"y":0.255,"v":82},{"x":0.6375,"y":0.285,"v":88},{"x":0.6375,"y":0.315,"v":92},{"x":0.6375,"y":0.345,"v":95},{"x":0.6375,"y":0.375,"v":97},{"x":0.6375,"y":0.405,"v":98},{"x":0.6375,"y":0.435,"v":98},{"x":0.6375,"y":0.465,"v":97},{"x":0.6375,"y":0.495,"v":94},{"x":0.6375,"y":0.525,"v":91},{"x":0.6375,"y":0.555,"v":86},{"x":0.6375,"y":0.585,"v":80},
{"x":0.7125,"y":0.015,"v":-3},{"x":0.7125,"y":0.045,"v":12},{"x":0.7125,"y":0.075,"v":26},{"x":0.7125,"y":0.105,"v":38},{"x":0.7125,"y":0.135,"v":50},{"x":0.7125,"y":0.165,"v":60},{"x":0.7125,"y":0.195,"v":69},{"x":0.7125,"y":0.225,"v":76},{"x":0.7125,"y":0.255,"v":83},{"x":0.7125,"y":0.285,"v":89},{"x":0.7125,"y":0.315,"v":93},{"x":0.7125,"y":0.345,"v":96},{"x":0.7125,"y":0.375,"v":98},{"x":0.7125,"y":0.405,"v":99},{"x":0.7125,"y":0.435,"v":98},{"x":0.7125,"y":0.465,"v":97},{"x":0.7125,"y":0.495,"v":94},{"x":0.7125,"y":0.525,"v":91},{"x":0.7125,"y":0.555,"v":86},{"x":0.7125,"y":0.585,"v":79},
{"x":0.7875,"y":0.015,"v":-1},{"x":0.7875,"y":0.045,"v":14},{"x":0.7875,"y":0.075,"v":27},{"x":0.7875,"y":0.105,"v":40},{"x":0.7875,"y":0.135,"v":51},{"x":0.7875,"y":0.165,"v":61},{"x":0.7875,"y":0.195,"v":70},{"x":0.7875,"y":0.225,"v":77},{"x":0.7875,"y":0.255,"v":84},{"x":0.7875,"y":0.285,"v":89},{"x":0.7875,"y":0.315,"v":93},{"x":0.7875,"y":0.345,"v":96},{"x":0.7875,"y":0.375,"v":98},{"x":0.7875,"y":0.405,"v":99},{"x":0.7875,"y":0.435,"v":98},{"x":0.7875,"y":0.465,"v":97},{"x":0.7875,"y":0.495,"v":94},{"x":0.7875,"y":0.525,"v":90},{"x":0.7875,"y":0.555,"v":85},{"x":0.7875,"y":0.585,"v":78},
{"x":0.8625,"y":0.015,"v":1},{"x":0.8625,"y":0.045,"v":15},{"x":0.8625,"y":0.075,"v":29},{"x":0.8625,"y":0.105,"v":41},{"x":0.8625,"y":0.135,"v":52},{"x":0.8625,"y":0.165,"v":62},{"x":0.8625,"y":0.195,"v":70},{"x":0.8625,"y":0.225,"v":78},{"x":0.8625,"y":0.255,"v":84},{"x":0.8625,"y":0.285,"v":89},{"x":0.8625,"y":0.315,"v":93},{"x":0.8625,"y":0.345,"v":96},{"x":0.8625,"y":0.375,"v":98},{"x":0.8625,"y":0.405,"v":98},{"x":0.8625,"y":0.435,"v":98},{"x":0.8625,"y":0.465,"v":96},{"x":0.8625,"y":0.495,"v":93},{"x":0.8625,"y":0.525,"v":89},{"x":0.8625,"y":0.555,"v":84},{"x":0.8625,"y":0.585,"v":77},
{"x":0.9375,"y":0.015,"v":2},{"x":0.9375,"y":0.045,"v":17},{"x":0.9375,"y":0.075,"v":30},{"x":0.9375,"y":0.105,"v":42},{"x":0.9375,"y":0.135,"v":53},{"x":0.9375,"y":0.165,"v":62},{"x":0.9375,"y":0.195,"v":71},{"x":0.9375,"y":0.225,"v":78},{"x":0.9375,"y":0.255,"v":84},{"x":0.9375,"y":0.285,"v":89},{"x":0.9375,"y":0.315,"v":93},{"x":0.9375,"y":0.345,"v":96},{"x":0.9375,"y":0.375,"v":97},{"x":0.9375,"y":0.405,"v":98},{"x":0.9375,"y":0.435,"v":97},{"x":0.9375,"y":0.465,"v":95},{"x":0.9375,"y":0.495,"v":92},{"x":0.9375,"y":0.525,"v":88},{"x":0.9375,"y":0.555,"v":82},{"x":0.9375,"y":0.585,"v":76},
{"x":1.0125,"y":0.015,"v":3},{"x":1.0125,"y":0.045,"v":18},{"x":1.0125,"y":0.075,"v":31},{"x":1.0125,"y":0.105,"v":42},{"x":1.0125,"y":0.135,"v":53},{"x":1.0125,"y":0.165,"v":63},{"x":1.0125,"y":0.195,"v":71},{"x":1.0125,"y":0.225,"v":78},{"x":1.0125,"y":0.255,"v":84},{"x":1.0125,"y":0.285,"v":89},{"x":1.0125,"y":0.315,"v":93},{"x":1.0125,"y":0.345,"v":95},{"x":1.0125,"y":0.375,"v":97},{"x":1.0125,"y":0.405,"v":97},{"x":1.0125,"y":0.435,"v":96},{"x":1.0125,"y":0.465,"v":94},{"x":1.0125,"y":0.495,"v":91},{"x":1.0125,"y":0.525,"v":86},{"x":1.0125,"y":0.555,"v":81},{"x":1.0125,"y":0.585,"v":74},
{"x":1.0875,"y":0.015,"v":4},{"x":1.0875,"y":0.045,"v":18},{"x":1.0875,"y":0.075,"v":31},{"x":1.0875,"y":0.105,"v":43},{"x":1.0875,"y":0.135,"v":53},{"x":1.0875,"y":0.165,"v":63},{"x":1.0875,"y":0.195,"v":71},{"x":1.0875,"y":0.225,"v":78},{"x":1.0875,"y":0.255,"v":84},{"x":1.0875,"y":0.285,"v":88},{"x":1.0875,"y":0.315,"v":92},{"x":1.0875,"y":0.345,"v":94},{"x":1.0875,"y":0.375,"v":96},{"x":1.0875,"y":0.405,"v":96},{"x":1.0875,"y":0.435,"v":95},{"x":1.0875,"y":0.465,"v":92},{"x":1.0875,"y":0.495,"v":89},{"x":1.0875,"y":0.525,"v":84},{"x":1.0875,"y":0.555,"v":79},{"x":1.0875,"y":0.585,"v":72},
{"x":1.1625,"y":0.015,"v":4},{"x":1.1625,"y":0.045,"v":18},{"x":1.1625,"y":0.075,"v":31},{"x":1.1625,"y":0.105,"v":43},{"x":1.1625,"y":0.135,"v":53},{"x":1.1625,"y":0.165,"v":62},{"x":1.1625,"y":0.195,"v":70},{"x":1.1625,"y":0.225,"v":77},{"x":1.1625,"y":0.255,"v":83},{"x":1.1625,"y":0.285,"v":87},{"x":1.1625,"y":0.315,"v":91},{"x":1.1625,"y":0.345,"v":93},{"x":1.1625,"y":0.375,"v":94},{"x":1.1625,"y":0.405,"v":94},{"x":1.1625,"y":0.435,"v":93},{"x":1.1625,"y":0.465,"v":90},{"x":1.1625,"y":0.495,"v":87},{"x":1.1625,"y":0.525,"v":82},{"x":1.1625,"y":0.555,"v":76},{"x":1.1625,"y":0.585,"v":69},
{"x":1.2375,"y":0.015,"v":5},{"x":1.2375,"y":0.045,"v":18},{"x":1.2375,"y":0.075,"v":31},{"x":1.2375,"y":0.105,"v":42},{"x":1.2375,"y":0.135,"v":52},{"x":1.2375,"y":0.165,"v":61},{"x":1.2375,"y":0.195,"v":69},{"x":1.2375,"y":0.225,"v":76},{"x":1.2375,"y":0.255,"v":82},{"x":1.2375,"y":0.285,"v":86},{"x":1.2375,"y":0.315,"v":89},{"x":1.2375,"y":0.345,"v":91},{"x":1.2375,"y":0.375,"v":92},{"x":1.2375,"y":0.405,"v":92},{"x":1.2375,"y":0.435,"v":91},{"x":1.2375,"y":0.465,"v":88},{"x":1.2375,"y":0.495,"v":84},{"x":1.2375,"y":0.525,"v":80},{"x":1.2375,"y":0.555,"v":73},{"x":1.2375,"y":0.585,"v":66},
{"x":1.3125,"y":0.015,"v":4},{"x":1.3125,"y":0.045,"v":18},{"x":1.3125,"y":0.075,"v":30},{"x":1.3125,"y":0.105,"v":42},{"x":1.3125,"y":0.135,"v":52},{"x":1.3125,"y":0.165,"v":60},{"x":1.3125,"y":0.195,"v":68},{"x":1.3125,"y":0.225,"v":75},{"x":1.3125,"y":0.255,"v":80},{"x":1.3125,"y":0.285,"v":84},{"x":1.3125,"y":0.315,"v":88},{"x":1.3125,"y":0.345,"v":90},{"x":1.3125,"y":0.375,"v":90},{"x":1.3125,"y":0.405,"v":90},{"x":1.3125,"y":0.435,"v":88},{"x":1.3125,"y":0.465,"v":86},{"x":1.3125,"y":0.495,"v":82},{"x":1.3125,"y":0.525,"v":77},{"x":1.3125,"y":0.555,"v":71},{"x":1.3125,"y":0.585,"v":63},
{"x":1.3875,"y":0.015,"v":4},{"x":1.3875,"y":0.045,"v":17},{"x":1.3875,"y":0.075,"v":29},{"x":1.3875,"y":0.105,"v":41},{"x":1.3875,"y":0.135,"v":50},{"x":1.3875,"y":0.165,"v":59},{"x":1.3875,"y":0.195,"v":67},{"x":1.3875,"y":0.225,"v":73},{"x":1.3875,"y":0.255,"v":78},{"x":1.3875,"y":0.285,"v":83},{"x":1.3875,"y":0.315,"v":86},{"x":1.3875,"y":0.345,"v":87},{"x":1.3875,"y":0.375,"v":88},{"x":1.3875,"y":0.405,"v":87},{"x":1.3875,"y":0.435,"v":86},{"x":1.3875,"y":0.465,"v":83},{"x":1.3875,"y":0.495,"v":79},{"x":1.3875,"y":0.525,"v":74},{"x":1.3875,"y":0.555,"v":67},{"x":1.3875,"y":0.585,"v":60},
{"x":1.4625,"y":0.015,"v":3},{"x":1.4625,"y":0.045,"v":16},{"x":1.4625,"y":0.075,"v":28},{"x":1.4625,"y":0.105,"v":39},{"x":1.4625,"y":0.135,"v":49},{"x":1.4625,"y":0.165,"v":57},{"x":1.4625,"y":0.195,"v":65},{"x":1.4625,"y":0.225,"v":71},{"x":1.4625,"y":0.255,"v":76},{"x":1.4625,"y":0.285,"v":80},{"x":1.4625,"y":0.315,"v":83},{"x":1.4625,"y":0.345,"v":85},{"x":1.4625,"y":0.375,"v":85},{"x":1.4625,"y":0.405,"v":85},{"x":1.4625,"y":0.435,"v":83},{"x":1.4625,"y":0.465,"v":80},{"x":1.4625,"y":0.495,"v":76},{"x":1.4625,"y":0.525,"v":70},{"x":1.4625,"y":0.555,"v":64},{"x":1.4625,"y":0.585,"v":56},
{"x":0.0375,"y":0,"v":-43},{"x":0.0375,"y":0.03,"v":-26},{"x":0.0375,"y":0.06,"v":-11},{"x":0.0375,"y":0.09,"v":4},{"x":0.0375,"y":0.12,"v":17},{"x":0.0375,"y":0.15,"v":29},{"x":0.0375,"y":0.18,"v":40},{"x":0.0375,"y":0.21,"v":50},{"x":0.0375,"y":0.24,"v":58},{"x":0.0375,"y":0.27,"v":66},{"x":0.0375,"y":0.3,"v":72},{"x":0.0375,"y":0.33,"v":77},{"x":0.0375,"y":0.36,"v":81},{"x":0.0375,"y":0.39,"v":84},{"x":0.0375,"y":0.42,"v":86},{"x":0.0375,"y":0.45,"v":86},{"x":0.0375,"y":0.48,"v":85},{"x":0.0375,"y":0.51,"v":83},{"x":0.0375,"y":0.54,"v":80},{"x":0.0375,"y":0.57,"v":76},{"x":0.0375,"y":0.6,"v":71},
{"x":0.1125,"y":0,"v":-38},{"x":0.1125,"y":0.03,"v":-22},{"x":0.1125,"y":0.06,"v":-6},{"x":0.1125,"y":0.09,"v":8},{"x":0.1125,"y":0.12,"v":21},{"x":0.1125,"y":0.15,"v":33},{"x":0.1125,"y":0.18,"v":44},{"x":0.1125,"y":0.21,"v":54},{"x":0.1125,"y":0.24,"v":62},{"x":0.1125,"y":0.27,"v":69},{"x":0.1125,"y":0.3,"v":75},{"x":0.1125,"y":0.33,"v":80},{"x":0.1125,"y":0.36,"v":84},{"x":0.1125,"y":0.39,"v":87},{"x":0.1125,"y":0.42,"v":88},{"x":0.1125,"y":0.45,"v":89},{"x":0.1125,"y":0.48,"v":88},{"x":0.1125,"y":0.51,"v":86},{"x":0.1125,"y":0.54,"v":83},{"x":0.1125,"y":0.57,"v":78},{"x":0.1125,"y":0.6,"v":73},
{"x":0.1875,"y":0,"v":-34},{"x":0.1875,"y":0.03,"v":-17},{"x":0.1875,"y":0.06,"v":-2},{"x":0.1875,"y":0.09,"v":12},{"x":0.1875,"y":0.12,"v":25},{"x":0.1875,"y":0.15,"v":37},{"x":0.1875,"y":0.18,"v":48},{"x":0.1875,"y":0.21,"v":57},{"x":0.1875,"y":0.24,"v":65},{"x":0.1875,"y":0.27,"v":72},{"x":0.1875,"y":0.3,"v":78},{"x":0.1875,"y":0.33,"v":83},{"x":0.1875,"y":0.36,"v":87},{"x":0.1875,"y":0.39,"v":89},{"x":0.1875,"y":0.42,"v":91},{"x":0.1875,"y":0.45,"v":91},{"x":0.1875,"y":0.48,"v":90},{"x":0.1875,"y":0.51,"v":88},{"x":0.1875,"y":0.54,"v":84},{"x":0.1875,"y":0.57,"v":80},{"x":0.1875,"y":0.6,"v":74},
{"x":0.2625,"y":0,"v":-29},{"x":0.2625,"y":0.03,"v":-13},{"x":0.2625,"y":0.06,"v":2},{"x":0.2625,"y":0.09,"v":16},{"x":0.2625,"y":0.12,"v":29},{"x":0.2625,"y":0.15,"v":40},{"x":0.2625,"y":0.18,"v":51},{"x":0.2625,"y":0.21,"v":60},{"x":0.2625,"y":0.24,"v":68},{"x":0.2625,"y":0.27,"v":75},{"x":0.2625,"y":0.3,"v":81},{"x":0.2625,"y":0.33,"v":86},{"x":0.2625,"y":0.36,"v":89},{"x":0.2625,"y":0.39,"v":92},{"x":0.2625,"y":0.42,"v":93},{"x":0.2625,"y":0.45,"v":93},{"x":0.2625,"y":0.48,"v":92},{"x":0.2625,"y":0.51,"v":89},{"x":0.2625,"y":0.54,"v":86},{"x":0.2625,"y":0.57,"v":81},{"x":0.2625,"y":0.6,"v":75},
{"x":0.3375,"y":0,"v":-25},{"x":0.3375,"y":0.03,"v":-9},{"x":0.3375,"y":0.06,"v":6},{"x":0.3375,"y":0.09,"v":20},{"x":0.3375,"y":0.12,"v":32},{"x":0.3375,"y":0.15,"v":44},{"x":0.3375,"y":0.18,"v":54},{"x":0.3375,"y":0.21,"v":63},{"x":0.3375,"y":0.24,"v":71},{"x":0.3375,"y":0.27,"v":78},{"x":0.3375,"y":0.3,"v":84},{"x":0.3375,"y":0.33,"v":88},{"x":0.3375,"y":0.36,"v":91},{"x":0.3375,"y":0.39,"v":94},{"x":0.3375,"y":0.42,"v":95},{"x":0.3375,"y":0.45,"v":94},{"x":0.3375,"y":0.48,"v":93},{"x":0.3375,"y":0.51,"v":91},{"x":0.3375,"y":0.54,"v":87},{"x":0.3375,"y":0.57,"v":82},{"x":0.3375,"y":0.6,"v":76},
{"x":0.4125,"y":0,"v":-22},{"x":0.4125,"y":0.03,"v":-6},{"x":0.4125,"y":0.06,"v":9},{"x":0.4125,"y":0.09,"v":23},{"x":0.4125,"y":0.12,"v":35},{"x":0.4125,"y":0.15,"v":46},{"x":0.4125,"y":0.18,"v":57},{"x":0.4125,"y":0.21,"v":66},{"x":0.4125,"y":0.24,"v":73},{"x":0.4125,"y":0.27,"v":80},{"x":0.4125,"y":0.3,"v":86},{"x":0.4125,"y":0.33,"v":90},{"x":0.4125,"y":0.36,"v":93},{"x":0.4125,"y":0.39,"v":95},{"x":0.4125,"y":0.42,"v":96},{"x":0.4125,"y":0.45,"v":96},{"x":0.4125,"y":0.48,"v":94},{"x":0.4125,"y":0.51,"v":92},{"x":0.4125,"y":0.54,"v":88},{"x":0.4125,"y":0.57,"v":83},{"x":0.4125,"y":0.6,"v":77},
{"x":0.4875,"y":0,"v":-19},{"x":0.4875,"y":0.03,"v":-3},{"x":0.4875,"y":0.06,"v":12},{"x":0.4875,"y":0.09,"v":25},{"x":0.4875,"y":0.12,"v":38},{"x":0.4875,"y":0.15,"v":49},{"x":0.4875,"y":0.18,"v":59},{"x":0.4875,"y":0.21,"v":68},{"x":0.4875,"y":0.24,"v":75},{"x":0.4875,"y":0.27,"v":82},{"x":0.4875,"y":0.3,"v":87},{"x":0.4875,"y":0.33,"v":92},{"x":0.4875,"y":0.36,"v":95},{"x":0.4875,"y":0.39,"v":96},{"x":0.4875,"y":0.42,"v":97},{"x":0.4875,"y":0.45,"v":97},{"x":0.4875,"y":0.48,"v":95},{"x":0.4875,"y":0.51,"v":92},{"x":0.4875,"y":0.54,"v":88},{"x":0.4875,"y":0.57,"v":83},{"x":0.4875,"y":0.6,"v":77},
{"x":0.5625,"y":0,"v":-16},{"x":0.5625,"y":0.03,"v":0},{"x":0.5625,"y":0.06,"v":15},{"x":0.5625,"y":0.09,"v":28},{"x":0.5625,"y":0.12,"v":40},{"x":0.5625,"y":0.15,"v":51},{"x":0.5625,"y":0.18,"v":61},{"x":0.5625,"y":0.21,"v":70},{"x":0.5625,"y":0.24,"v":77},{"x":0.5625,"y":0.27,"v":84},{"x":0.5625,"y":0.3,"v":89},{"x":0.5625,"y":0.33,"v":93},{"x":0.5625,"y":0.36,"v":96},{"x":0.5625,"y":0.39,"v":97},{"x":0.5625,"y":0.42,"v":98},{"x":0.5625,"y":0.45,"v":97},{"x":0.5625,"y":0.48,"v":96},{"x":0.5625,"y":0.51,"v":93},{"x":0.5625,"y":0.54,"v":89},{"x":0.5625,"y":0.57,"v":83},{"x":0.5625,"y":0.6,"v":77},
{"x":0.6375,"y":0,"v":-13},{"x":0.6375,"y":0.03,"v":3},{"x":0.6375,"y":0.06,"v":17},{"x":0.6375,"y":0.09,"v":30},{"x":0.6375,"y":0.12,"v":42},{"x":0.6375,"y":0.15,"v":53},{"x":0.6375,"y":0.18,"v":63},{"x":0.6375,"y":0.21,"v":71},{"x":0.6375,"y":0.24,"v":79},{"x":0.6375,"y":0.27,"v":85},{"x":0.6375,"y":0.3,"v":90},{"x":0.6375,"y":0.33,"v":94},{"x":0.6375,"y":0.36,"v":97},{"x":0.6375,"y":0.39,"v":98},{"x":0.6375,"y":0.42,"v":99},{"x":0.6375,"y":0.45,"v":98},{"x":0.6375,"y":0.48,"v":96},{"x":0.6375,"y":0.51,"v":93},{"x":0.6375,"y":0.54,"v":89},{"x":0.6375,"y":0.57,"v":83},{"x":0.6375,"y":0.6,"v":77},
{"x":0.7125,"y":0,"v":-11},{"x":0.7125,"y":0.03,"v":5},{"x":0.7125,"y":0.06,"v":19},{"x":0.7125,"y":0.09,"v":32},{"x":0.7125,"y":0.12,"v":44},{"x":0.7125,"y":0.15,"v":55},{"x":0.7125,"y":0.18,"v":64},{"x":0.7125,"y":0.21,"v":73},{"x":0.7125,"y":0.24,"v":80},{"x":0.7125,"y":0.27,"v":86},{"x":0.7125,"y":0.3,"v":91},{"x":0.7125,"y":0.33,"v":95},{"x":0.7125,"y":0.36,"v":97},{"x":0.7125,"y":0.39,"v":99},{"x":0.7125,"y":0.42,"v":99},{"x":0.7125,"y":0.45,"v":98},{"x":0.7125,"y":0.48,"v":96},{"x":0.7125,"y":0.51,"v":93},{"x":0.7125,"y":0.54,"v":88},{"x":0.7125,"y":0.57,"v":83},{"x":0.7125,"y":0.6,"v":76},
{"x":0.7875,"y":0,"v":-9},{"x":0.7875,"y":0.03,"v":7},{"x":0.7875,"y":0.06,"v":21},{"x":0.7875,"y":0.09,"v":34},{"x":0.7875,"y":0.12,"v":45},{"x":0.7875,"y":0.15,"v":56},{"x":0.7875,"y":0.18,"v":65},{"x":0.7875,"y":0.21,"v":74},{"x":0.7875,"y":0.24,"v":81},{"x":0.7875,"y":0.27,"v":87},{"x":0.7875,"y":0.3,"v":91},{"x":0.7875,"y":0.33,"v":95},{"x":0.7875,"y":0.36,"v":97},{"x":0.7875,"y":0.39,"v":99},{"x":0.7875,"y":0.42,"v":99},{"x":0.7875,"y":0.45,"v":98},{"x":0.7875,"y":0.48,"v":95},{"x":0.7875,"y":0.51,"v":92},{"x":0.7875,"y":0.54,"v":87},{"x":0.7875,"y":0.57,"v":82},{"x":0.7875,"y":0.6,"v":75},
{"x":0.8625,"y":0,"v":-7},{"x":0.8625,"y":0.03,"v":8},{"x":0.8625,"y":0.06,"v":22},{"x":0.8625,"y":0.09,"v":35},{"x":0.8625,"y":0.12,"v":47},{"x":0.8625,"y":0.15,"v":57},{"x":0.8625,"y":0.18,"v":66},{"x":0.8625,"y":0.21,"v":74},{"x":0.8625,"y":0.24,"v":81},{"x":0.8625,"y":0.27,"v":87},{"x":0.8625,"y":0.3,"v":92},{"x":0.8625,"y":0.33,"v":95},{"x":0.8625,"y":0.36,"v":97},{"x":0.8625,"y":0.39,"v":98},{"x":0.8625,"y":0.42,"v":98},{"x":0.8625,"y":0.45,"v":97},{"x":0.8625,"y":0.48,"v":95},{"x":0.8625,"y":0.51,"v":91},{"x":0.8625,"y":0.54,"v":86},{"x":0.8625,"y":0.57,"v":81},{"x":0.8625,"y":0.6,"v":74},
{"x":0.9375,"y":0,"v":-5},{"x":0.9375,"y":0.03,"v":10},{"x":0.9375,"y":0.06,"v":23},{"x":0.9375,"y":0.09,"v":36},{"x":0.9375,"y":0.12,"v":47},{"x":0.9375,"y":0.15,"v":58},{"x":0.9375,"y":0.18,"v":67},{"x":0.9375,"y":0.21,"v":75},{"x":0.9375,"y":0.24,"v":81},{"x":0.9375,"y":0.27,"v":87},{"x":0.9375,"y":0.3,"v":91},{"x":0.9375,"y":0.33,"v":95},{"x":0.9375,"y":0.36,"v":97},{"x":0.9375,"y":0.39,"v":98},{"x":0.9375,"y":0.42,"v":98},{"x":0.9375,"y":0.45,"v":96},{"x":0.9375,"y":0.48,"v":94},{"x":0.9375,"y":0.51,"v":90},{"x":0.9375,"y":0.54,"v":85},{"x":0.9375,"y":0.57,"v":79},{"x":0.9375,"y":0.6,"v":72},
{"x":1.0125,"y":0,"v":-4},{"x":1.0125,"y":0.03,"v":11},{"x":1.0125,"y":0.06,"v":24},{"x":1.0125,"y":0.09,"v":37},{"x":1.0125,"y":0.12,"v":48},{"x":1.0125,"y":0.15,"v":58},{"x":1.0125,"y":0.18,"v":67},{"x":1.0125,"y":0.21,"v":75},{"x":1.0125,"y":0.24,"v":81},{"x":1.0125,"y":0.27,"v":87},{"x":1.0125,"y":0.3,"v":91},{"x":1.0125,"y":0.33,"v":94},{"x":1.0125,"y":0.36,"v":96},{"x":1.0125,"y":0.39,"v":97},{"x":1.0125,"y":0.42,"v":96},{"x":1.0125,"y":0.45,"v":95},{"x":1.0125,"y":0.48,"v":92},{"x":1.0125,"y":0.51,"v":88},{"x":1.0125,"y":0.54,"v":83},{"x":1.0125,"y":0.57,"v":77},{"x":1.0125,"y":0.6,"v":70},
{"x":1.0875,"y":0,"v":-3},{"x":1.0875,"y":0.03,"v":11},{"x":1.0875,"y":0.06,"v":25},{"x":1.0875,"y":0.09,"v":37},{"x":1.0875,"y":0.12,"v":48},{"x":1.0875,"y":0.15,"v":58},{"x":1.0875,"y":0.18,"v":67},{"x":1.0875,"y":0.21,"v":74},{"x":1.0875,"y":0.24,"v":81},{"x":1.0875,"y":0.27,"v":86},{"x":1.0875,"y":0.3,"v":90},{"x":1.0875,"y":0.33,"v":93},{"x":1.0875,"y":0.36,"v":95},{"x":1.0875,"y":0.39,"v":96},{"x":1.0875,"y":0.42,"v":95},{"x":1.0875,"y":0.45,"v":93},{"x":1.0875,"y":0.48,"v":91},{"x":1.0875,"y":0.51,"v":87},{"x":1.0875,"y":0.54,"v":82},{"x":1.0875,"y":0.57,"v":75},{"x":1.0875,"y":0.6,"v":68},
{"x":1.1625,"y":0,"v":-3},{"x":1.1625,"y":0.03,"v":12},{"x":1.1625,"y":0.06,"v":25},{"x":1.1625,"y":0.09,"v":37},{"x":1.1625,"y":0.12,"v":48},{"x":1.1625,"y":0.15,"v":58},{"x":1.1625,"y":0.18,"v":66},{"x":1.1625,"y":0.21,"v":74},{"x":1.1625,"y":0.24,"v":80},{"x":1.1625,"y":0.27,"v":85},{"x":1.1625,"y":0.3,"v":89},{"x":1.1625,"y":0.33,"v":92},{"x":1.1625,"y":0.36,"v":94},{"x":1.1625,"y":0.39,"v":94},{"x":1.1625,"y":0.42,"v":94},{"x":1.1625,"y":0.45,"v":92},{"x":1.1625,"y":0.48,"v":89},{"x":1.1625,"y":0.51,"v":85},{"x":1.1625,"y":0.54,"v":79},{"x":1.1625,"y":0.57,"v":73},{"x":1.1625,"y":0.6,"v":65},
{"x":1.2375,"y":0,"v":-3},{"x":1.2375,"y":0.03,"v":12},{"x":1.2375,"y":0.06,"v":25},{"x":1.2375,"y":0.09,"v":37},{"x":1.2375,"y":0.12,"v":47},{"x":1.2375,"y":0.15,"v":57},{"x":1.2375,"y":0.18,"v":66},{"x":1.2375,"y":0.21,"v":73},{"x":1.2375,"y":0.24,"v":79},{"x":1.2375,"y":0.27,"v":84},{"x":1.2375,"y":0.3,"v":88},{"x":1.2375,"y":0.33,"v":91},{"x":1.2375,"y":0.36,"v":92},{"x":1.2375,"y":0.39,"v":92},{"x":1.2375,"y":0.42,"v":92},{"x":1.2375,"y":0.45,"v":90},{"x":1.2375,"y":0.48,"v":86},{"x":1.2375,"y":0.51,"v":82},{"x":1.2375,"y":0.54,"v":77},{"x":1.2375,"y":0.57,"v":70},{"x":1.2375,"y":0.6,"v":62},
{"x":1.3125,"y":0,"v":-3},{"x":1.3125,"y":0.03,"v":11},{"x":1.3125,"y":0.06,"v":24},{"x":1.3125,"y":0.09,"v":36},{"x":1.3125,"y":0.12,"v":47},{"x":1.3125,"y":0.15,"v":56},{"x":1.3125,"y":0.18,"v":65},{"x":1.3125,"y":0.21,"v":72},{"x":1.3125,"y":0.24,"v":78},{"x":1.3125,"y":0.27,"v":83},{"x":1.3125,"y":0.3,"v":86},{"x":1.3125,"y":0.33,"v":89},{"x":1.3125,"y":0.36,"v":90},{"x":1.3125,"y":0.39,"v":90},{"x":1.3125,"y":0.42,"v":89},{"x":1.3125,"y":0.45,"v":87},{"x":1.3125,"y":0.48,"v":84},{"x":1.3125,"y":0.51,"v":79},{"x":1.3125,"y":0.54,"v":74},{"x":1.3125,"y":0.57,"v":67},{"x":1.3125,"y":0.6,"v":59},
{"x":1.3875,"y":0,"v":-3},{"x":1.3875,"y":0.03,"v":11},{"x":1.3875,"y":0.06,"v":23},{"x":1.3875,"y":0.09,"v":35},{"x":1.3875,"y":0.12,"v":46},{"x":1.3875,"y":0.15,"v":55},{"x":1.3875,"y":0.18,"v":63},{"x":1.3875,"y":0.21,"v":70},{"x":1.3875,"y":0.24,"v":76},{"x":1.3875,"y":0.27,"v":81},{"x":1.3875,"y":0.3,"v":84},{"x":1.3875,"y":0.33,"v":87},{"x":1.3875,"y":0.36,"v":88},{"x":1.3875,"y":0.39,"v":88},{"x":1.3875,"y":0.42,"v":87},{"x":1.3875,"y":0.45,"v":84},{"x":1.3875,"y":0.48,"v":81},{"x":1.3875,"y":0.51,"v":76},{"x":1.3875,"y":0.54,"v":71},{"x":1.3875,"y":0.57,"v":64},{"x":1.3875,"y":0.6,"v":56},
{"x":1.4625,"y":0,"v":-4},{"x":1.4625,"y":0.03,"v":10},{"x":1.4625,"y":0.06,"v":22},{"x":1.4625,"y":0.09,"v":34},{"x":1.4625,"y":0.12,"v":44},{"x":1.4625,"y":0.15,"v":53},{"x":1.4625,"y":0.18,"v":61},{"x":1.4625,"y":0.21,"v":68},{"x":1.4625,"y":0.24,"v":74},{"x":1.4625,"y":0.27,"v":79},{"x":1.4625,"y":0.3,"v":82},{"x":1.4625,"y":0.33,"v":84},{"x":1.4625,"y":0.36,"v":85},{"x":1.4625,"y":0.39,"v":85},{"x":1.4625,"y":0.42,"v":84},{"x":1.4625,"y":0.45,"v":81},{"x":1.4625,"y":0.48,"v":78},{"x":1.4625,"y":0.51,"v":73},{"x":1.4625,"y":0.54,"v":67},{"x":1.4625,"y":0.57,"v":60},{"x":1.4625,"y":0.6,"v":52}
],
"ca":[
{"c":"a25l","o":0,"x":0,"y":0.62},{"c":"a25l","o":1,"x":0.025,"y":0.54},{"c":"a25l","o":2,"x":0.05,"y":0.453},{"c":"a25l","o":3,"x":0.075,"y":0.38},{"c":"a25l","o":4,"x":0.1,"y":0.31},{"c":"a25l","o":5,"x":0.15,"y":0.195},{"c":"a25l","o":6,"x":0.2,"y":0.096},{"c":"a25l","o":7,"x":0.25,"y":0.01},{"c":"a25l","o":8,"x":0.255,"y":0},
{"c":"a25u","o":0,"x":0,"y":1.4},{"c":"a25u","o":1,"x":0.01,"y":1.44},{"c":"a25u","o":2,"x":0.02,"y":1.475},{"c":"a25u","o":3,"x":0.027,"y":1.5},
{"c":"a50","o":0,"x":0.6,"y":0},{"c":"a50","o":1,"x":0.55,"y":0.06},{"c":"a50","o":2,"x":0.5,"y":0.132},{"c":"a50","o":3,"x":0.45,"y":0.214},{"c":"a50","o":4,"x":0.4,"y":0.31},{"c":"a50","o":5,"x":0.35,"y":0.427},{"c":"a50","o":6,"x":0.3,"y":0.579},{"c":"a50","o":7,"x":0.275,"y":0.687},{"c":"a50","o":8,"x":0.25,"y":0.865},{"c":"a50","o":9,"x":0.245,"y":0.989},{"c":"a50","o":10,"x":0.25,"y":1.11},{"c":"a50","o":11,"x":0.275,"y":1.283},{"c":"a50","o":12,"x":0.3,"y":1.383},{"c":"a50","o":13,"x":0.32,"y":1.444},{"c":"a50","o":14,"x":0.341,"y":1.5},
{"c":"a70","o":0,"x":1.0,"y":0.002},{"c":"a70","o":1,"x":0.95,"y":0.04},{"c":"a70","o":2,"x":0.9,"y":0.085},{"c":"a70","o":3,"x":0.85,"y":0.135},{"c":"a70","o":4,"x":0.8,"y":0.192},{"c":"a70","o":5,"x":0.75,"y":0.257},{"c":"a70","o":6,"x":0.7,"y":0.334},{"c":"a70","o":7,"x":0.65,"y":0.428},{"c":"a70","o":8,"x":0.6,"y":0.546},{"c":"a70","o":9,"x":0.55,"y":0.728},{"c":"a70","o":10,"x":0.528,"y":0.95},{"c":"a70","o":11,"x":0.55,"y":1.166},{"c":"a70","o":12,"x":0.6,"y":1.336},{"c":"a70","o":13,"x":0.65,"y":1.44},{"c":"a70","o":14,"x":0.675,"y":1.483},{"c":"a70","o":15,"x":0.688,"y":1.5},
{"c":"a80l","o":0,"x":1.445,"y":0},{"c":"a80l","o":1,"x":1.35,"y":0.025},{"c":"a80l","o":2,"x":1.25,"y":0.063},{"c":"a80l","o":3,"x":1.15,"y":0.116},{"c":"a80l","o":4,"x":1.05,"y":0.189},{"c":"a80l","o":5,"x":0.95,"y":0.285},{"c":"a80l","o":6,"x":0.9,"y":0.348},{"c":"a80l","o":7,"x":0.85,"y":0.423},{"c":"a80l","o":8,"x":0.8,"y":0.516},{"c":"a80l","o":9,"x":0.75,"y":0.644},{"c":"a80l","o":10,"x":0.72,"y":0.7725},{"c":"a80l","o":11,"x":0.707,"y":0.926},{"c":"a80l","o":12,"x":0.72,"y":1.0755},{"c":"a80l","o":13,"x":0.75,"y":1.196},{"c":"a80l","o":14,"x":0.8,"y":1.311},{"c":"a80l","o":15,"x":0.85,"y":1.391},{"c":"a80l","o":16,"x":0.9,"y":1.452},{"c":"a80l","o":17,"x":0.95,"y":1.5},
{"c":"a80b","o":0,"x":1.695,"y":0},{"c":"a80b","o":1,"x":1.75,"y":0.019},{"c":"a80b","o":2,"x":1.8,"y":0.036},{"c":"a80b","o":3,"x":1.85,"y":0.059},{"c":"a80b","o":4,"x":1.9,"y":0.0895},{"c":"a80b","o":5,"x":1.95,"y":0.126},{"c":"a80b","o":6,"x":2.0,"y":0.173},
{"c":"a80t","o":0,"x":1.828,"y":1.5},{"c":"a80t","o":1,"x":1.85,"y":1.483},{"c":"a80t","o":2,"x":1.9,"y":1.44},{"c":"a80t","o":3,"x":1.95,"y":1.39},{"c":"a80t","o":4,"x":2.0,"y":1.329},
{"c":"a90","o":0,"x":0.942,"y":0.894},{"c":"a90","o":1,"x":0.95,"y":0.79},{"c":"a90","o":2,"x":1.0,"y":0.626},{"c":"a90","o":3,"x":1.05,"y":0.532},{"c":"a90","o":4,"x":1.15,"y":0.409},{"c":"a90","o":5,"x":1.25,"y":0.33},{"c":"a90","o":6,"x":1.35,"y":0.279},{"c":"a90","o":7,"x":1.45,"y":0.25},{"c":"a90","o":8,"x":1.55,"y":0.241},{"c":"a90","o":9,"x":1.65,"y":0.253},{"c":"a90","o":10,"x":1.75,"y":0.294},{"c":"a90","o":11,"x":1.85,"y":0.368},{"c":"a90","o":12,"x":1.95,"y":0.523},{"c":"a90","o":13,"x":1.993,"y":0.752},{"c":"a90","o":14,"x":1.95,"y":0.993},{"c":"a90","o":15,"x":1.85,"y":1.174},{"c":"a90","o":16,"x":1.75,"y":1.276},{"c":"a90","o":17,"x":1.65,"y":1.343},{"c":"a90","o":18,"x":1.55,"y":1.383},{"c":"a90","o":19,"x":1.45,"y":1.4},{"c":"a90","o":20,"x":1.35,"y":1.399},{"c":"a90","o":21,"x":1.25,"y":1.376},{"c":"a90","o":22,"x":1.15,"y":1.323},{"c":"a90","o":23,"x":1.05,"y":1.228},{"c":"a90","o":24,"x":1.0,"y":1.146},{"c":"a90","o":25,"x":0.95,"y":1.0},{"c":"a90","o":26,"x":0.942,"y":0.894},
{"c":"a95","o":0,"x":1.111,"y":0.871},{"c":"a95","o":1,"x":1.15,"y":0.688},{"c":"a95","o":2,"x":1.2,"y":0.6},{"c":"a95","o":3,"x":1.25,"y":0.54},{"c":"a95","o":4,"x":1.35,"y":0.466},{"c":"a95","o":5,"x":1.45,"y":0.428},{"c":"a95","o":6,"x":1.55,"y":0.42},{"c":"a95","o":7,"x":1.65,"y":0.446},{"c":"a95","o":8,"x":1.75,"y":0.522},{"c":"a95","o":9,"x":1.8,"y":0.597},{"c":"a95","o":10,"x":1.838,"y":0.773},{"c":"a95","o":11,"x":1.8,"y":0.959},{"c":"a95","o":12,"x":1.75,"y":1.048},{"c":"a95","o":13,"x":1.65,"y":1.15},{"c":"a95","o":14,"x":1.55,"y":1.204},{"c":"a95","o":15,"x":1.45,"y":1.222},{"c":"a95","o":16,"x":1.35,"y":1.212},{"c":"a95","o":17,"x":1.25,"y":1.166},{"c":"a95","o":18,"x":1.2,"y":1.118},{"c":"a95","o":19,"x":1.15,"y":1.044},{"c":"a95","o":20,"x":1.111,"y":0.871}
],
"cb":[
{"c":"b0","o":0,"x":0,"y":0.0869},{"c":"b0","o":1,"x":0.1,"y":0.0741},{"c":"b0","o":2,"x":0.2,"y":0.0624},{"c":"b0","o":3,"x":0.3,"y":0.052},{"c":"b0","o":4,"x":0.4,"y":0.0426},{"c":"b0","o":5,"x":0.5,"y":0.0344},{"c":"b0","o":6,"x":0.6,"y":0.0271},{"c":"b0","o":7,"x":0.7,"y":0.021},{"c":"b0","o":8,"x":0.8,"y":0.0158},{"c":"b0","o":9,"x":0.9,"y":0.0117},{"c":"b0","o":10,"x":1.0,"y":0.0086},{"c":"b0","o":11,"x":1.1,"y":0.0067},{"c":"b0","o":12,"x":1.2,"y":0.0057},{"c":"b0","o":13,"x":1.3,"y":0.0059},{"c":"b0","o":14,"x":1.4,"y":0.0072},{"c":"b0","o":15,"x":1.5,"y":0.0099},
{"c":"b25","o":0,"x":0,"y":0.1451},{"c":"b25","o":1,"x":0.1,"y":0.1309},{"c":"b25","o":2,"x":0.2,"y":0.1181},{"c":"b25","o":3,"x":0.3,"y":0.1068},{"c":"b25","o":4,"x":0.4,"y":0.0967},{"c":"b25","o":5,"x":0.5,"y":0.088},{"c":"b25","o":6,"x":0.6,"y":0.0804},{"c":"b25","o":7,"x":0.7,"y":0.0741},{"c":"b25","o":8,"x":0.8,"y":0.0689},{"c":"b25","o":9,"x":0.9,"y":0.0651},{"c":"b25","o":10,"x":1.0,"y":0.0623},{"c":"b25","o":11,"x":1.1,"y":0.0609},{"c":"b25","o":12,"x":1.2,"y":0.0606},{"c":"b25","o":13,"x":1.3,"y":0.0618},{"c":"b25","o":14,"x":1.4,"y":0.0643},{"c":"b25","o":15,"x":1.5,"y":0.0684},
{"c":"b50","o":0,"x":0,"y":0.2175},{"c":"b50","o":1,"x":0.1,"y":0.2006},{"c":"b50","o":2,"x":0.2,"y":0.1857},{"c":"b50","o":3,"x":0.3,"y":0.1728},{"c":"b50","o":4,"x":0.4,"y":0.1616},{"c":"b50","o":5,"x":0.5,"y":0.152},{"c":"b50","o":6,"x":0.6,"y":0.1439},{"c":"b50","o":7,"x":0.7,"y":0.1373},{"c":"b50","o":8,"x":0.8,"y":0.1322},{"c":"b50","o":9,"x":0.9,"y":0.1286},{"c":"b50","o":10,"x":1.0,"y":0.1264},{"c":"b50","o":11,"x":1.1,"y":0.1259},{"c":"b50","o":12,"x":1.2,"y":0.1269},{"c":"b50","o":13,"x":1.3,"y":0.1298},{"c":"b50","o":14,"x":1.4,"y":0.1345},{"c":"b50","o":15,"x":1.5,"y":0.1415},
{"c":"b70l","o":0,"x":0,"y":0.2987},{"c":"b70l","o":1,"x":0.1,"y":0.276},{"c":"b70l","o":2,"x":0.2,"y":0.2571},{"c":"b70l","o":3,"x":0.3,"y":0.2413},{"c":"b70l","o":4,"x":0.4,"y":0.228},{"c":"b70l","o":5,"x":0.5,"y":0.2171},{"c":"b70l","o":6,"x":0.6,"y":0.2081},{"c":"b70l","o":7,"x":0.7,"y":0.2011},{"c":"b70l","o":8,"x":0.8,"y":0.196},{"c":"b70l","o":9,"x":0.9,"y":0.193},{"c":"b70l","o":10,"x":1.0,"y":0.1918},{"c":"b70l","o":11,"x":1.1,"y":0.1927},{"c":"b70l","o":12,"x":1.2,"y":0.196},{"c":"b70l","o":13,"x":1.3,"y":0.2019},{"c":"b70l","o":14,"x":1.4,"y":0.2109},{"c":"b70l","o":15,"x":1.5,"y":0.2241},
{"c":"b70u","o":0,"x":1.01,"y":0.6},{"c":"b70u","o":1,"x":1.1,"y":0.5899},{"c":"b70u","o":2,"x":1.2,"y":0.576},{"c":"b70u","o":3,"x":1.3,"y":0.5597},{"c":"b70u","o":4,"x":1.4,"y":0.5401},{"c":"b70u","o":5,"x":1.5,"y":0.5165},
{"c":"b80l","o":0,"x":0,"y":0.3649},{"c":"b80l","o":1,"x":0.1,"y":0.3314},{"c":"b80l","o":2,"x":0.2,"y":0.3066},{"c":"b80l","o":3,"x":0.3,"y":0.2872},{"c":"b80l","o":4,"x":0.4,"y":0.2715},{"c":"b80l","o":5,"x":0.5,"y":0.259},{"c":"b80l","o":6,"x":0.6,"y":0.2491},{"c":"b80l","o":7,"x":0.7,"y":0.2417},{"c":"b80l","o":8,"x":0.8,"y":0.2367},{"c":"b80l","o":9,"x":0.9,"y":0.2341},{"c":"b80l","o":10,"x":1.0,"y":0.234},{"c":"b80l","o":11,"x":1.1,"y":0.2366},{"c":"b80l","o":12,"x":1.2,"y":0.2424},{"c":"b80l","o":13,"x":1.3,"y":0.2523},{"c":"b80l","o":14,"x":1.4,"y":0.2679},{"c":"b80l","o":15,"x":1.5,"y":0.2937},
{"c":"b80u","o":0,"x":0,"y":0.5331},{"c":"b80u","o":1,"x":0.1,"y":0.5562},{"c":"b80u","o":2,"x":0.2,"y":0.5704},{"c":"b80u","o":3,"x":0.3,"y":0.5794},{"c":"b80u","o":4,"x":0.4,"y":0.5845},{"c":"b80u","o":5,"x":0.5,"y":0.5866},{"c":"b80u","o":6,"x":0.6,"y":0.5859},{"c":"b80u","o":7,"x":0.7,"y":0.5829},{"c":"b80u","o":8,"x":0.8,"y":0.5773},{"c":"b80u","o":9,"x":0.9,"y":0.5695},{"c":"b80u","o":10,"x":1.0,"y":0.559},{"c":"b80u","o":11,"x":1.1,"y":0.546},{"c":"b80u","o":12,"x":1.2,"y":0.5296},{"c":"b80u","o":13,"x":1.3,"y":0.5093},{"c":"b80u","o":14,"x":1.4,"y":0.4831},{"c":"b80u","o":15,"x":1.5,"y":0.4469},
{"c":"b90","o":0,"x":0.158,"y":0.4407},{"c":"b90","o":1,"x":0.17,"y":0.4167},{"c":"b90","o":2,"x":0.2,"y":0.395},{"c":"b90","o":3,"x":0.3,"y":0.3568},{"c":"b90","o":4,"x":0.4,"y":0.3333},{"c":"b90","o":5,"x":0.5,"y":0.3164},{"c":"b90","o":6,"x":0.6,"y":0.3041},{"c":"b90","o":7,"x":0.7,"y":0.2958},{"c":"b90","o":8,"x":0.8,"y":0.2908},{"c":"b90","o":9,"x":0.9,"y":0.2895},{"c":"b90","o":10,"x":1.0,"y":0.292},{"c":"b90","o":11,"x":1.1,"y":0.2995},{"c":"b90","o":12,"x":1.2,"y":0.3145},{"c":"b90","o":13,"x":1.3,"y":0.3491},{"c":"b90","o":14,"x":1.31,"y":0.357},{"c":"b90","o":15,"x":1.322,"y":0.3796},{"c":"b90","o":16,"x":1.31,"y":0.4035},{"c":"b90","o":17,"x":1.3,"y":0.4125},{"c":"b90","o":18,"x":1.2,"y":0.4575},{"c":"b90","o":19,"x":1.1,"y":0.4831},{"c":"b90","o":20,"x":1.0,"y":0.501},{"c":"b90","o":21,"x":0.9,"y":0.5141},{"c":"b90","o":22,"x":0.8,"y":0.5232},{"c":"b90","o":23,"x":0.7,"y":0.5288},{"c":"b90","o":24,"x":0.6,"y":0.5309},{"c":"b90","o":25,"x":0.5,"y":0.5292},{"c":"b90","o":26,"x":0.4,"y":0.5227},{"c":"b90","o":27,"x":0.3,"y":0.5098},{"c":"b90","o":28,"x":0.2,"y":0.482},{"c":"b90","o":29,"x":0.17,"y":0.4633},{"c":"b90","o":30,"x":0.158,"y":0.4407},
{"c":"b97","o":0,"x":0.477,"y":0.424},{"c":"b97","o":1,"x":0.5,"y":0.4012},{"c":"b97","o":2,"x":0.55,"y":0.3836},{"c":"b97","o":3,"x":0.6,"y":0.3728},{"c":"b97","o":4,"x":0.7,"y":0.3601},{"c":"b97","o":5,"x":0.8,"y":0.3555},{"c":"b97","o":6,"x":0.9,"y":0.3599},{"c":"b97","o":7,"x":0.95,"y":0.3674},{"c":"b97","o":8,"x":1.0,"y":0.3886},{"c":"b97","o":9,"x":1.003,"y":0.3963},{"c":"b97","o":10,"x":1.0,"y":0.4044},{"c":"b97","o":11,"x":0.95,"y":0.4308},{"c":"b97","o":12,"x":0.9,"y":0.4437},{"c":"b97","o":13,"x":0.8,"y":0.4585},{"c":"b97","o":14,"x":0.7,"y":0.4645},{"c":"b97","o":15,"x":0.6,"y":0.4622},{"c":"b97","o":16,"x":0.55,"y":0.4566},{"c":"b97","o":17,"x":0.5,"y":0.4444},{"c":"b97","o":18,"x":0.477,"y":0.424}
],
"la":[
{"t":"25","x":0.102,"y":0.304},{"t":"50","x":0.36,"y":0.39},{"t":"70","x":0.62,"y":0.49},{"t":"80","x":0.809,"y":0.495},{"t":"90","x":1.025,"y":0.57},{"t":"95","x":1.23,"y":0.57},{"t":"80","x":1.895,"y":1.44},{"t":"80","x":1.895,"y":0.1}
],
"lb":[
{"t":"97","x":0.9,"y":0.36},{"t":"90","x":0.776,"y":0.295},{"t":"80","x":0.683,"y":0.245},{"t":"70","x":0.589,"y":0.208},{"t":"50","x":0.479,"y":0.154},{"t":"25","x":0.361,"y":0.1},{"t":"0","x":0.251,"y":0.06},{"t":"70","x":1.344,"y":0.552},{"t":"80","x":1.344,"y":0.499}
]
},
"hconcat":[
{
"width":281,"height":282,
"title":{"text":"(a)","anchor":"start","frame":"bounds","font":"Liberation Sans","fontSize":19,"fontWeight":"normal","color":"#000","dx":-24,"dy":20,"offset":0},
"layer":[
{"data":{"name":"a"},"mark":{"type":"point","shape":"M-0.5,-1H0.5V1H-0.5Z","size":225,"filled":true,"opacity":1,"strokeWidth":0,"clip":true},
"encoding":{
"x":{"field":"x","type":"quantitative","scale":{"domain":[0,2],"nice":false,"zero":false},"axis":{"values":[0,0.5,1,1.5,2],"format":".1f","title":"Driving Pressure (Mpa)","labelPadding":8,"titlePadding":19}},
"y":{"field":"y","type":"quantitative","scale":{"domain":[0,1.5],"nice":false,"zero":false},"axis":{"values":[0,0.3,0.6,0.9,1.2,1.5],"format":".1f","title":"Injection Volume (mL)","labelPadding":3,"titlePadding":12}},
"color":{"field":"v","type":"quantitative","scale":{"domain":[10,31,52,73,95],"range":["#0000ff","#00ffff","#00ff00","#ffff00","#ff0000"],"clamp":true,"interpolate":"rgb"},"legend":null}}},
{"data":{"name":"ca"},"mark":{"type":"line","color":"#1a1a1a","strokeWidth":0.9,"clip":true,"interpolate":"catmull-rom"},
"encoding":{
"x":{"field":"x","type":"quantitative","axis":{"orient":"top","title":"Percent Delivery (%)","titleFontSize":18,"domain":false,"ticks":false,"labels":false,"titlePadding":0}},
"y":{"field":"y","type":"quantitative","axis":null},
"detail":{"field":"c"},"order":{"field":"o"}}},
{"data":{"name":"la"},"mark":{"type":"point","shape":"M-1,-0.73H1V0.73H-1Z","size":225,"filled":true,"fill":"#fff","stroke":"#444","strokeWidth":1,"opacity":1},
"encoding":{"x":{"field":"x","type":"quantitative","axis":null},"y":{"field":"y","type":"quantitative","axis":null}}},
{"data":{"name":"la"},"mark":{"type":"text","font":"Liberation Serif, Times New Roman, serif","fontSize":11,"color":"#222","baseline":"middle","align":"center","dy":0.5},
"encoding":{"x":{"field":"x","type":"quantitative","axis":null},"y":{"field":"y","type":"quantitative","axis":null},"text":{"field":"t"}}}
],
"resolve":{"axis":{"x":"independent","y":"independent"}}
},
{
"width":281,"height":282,
"title":{"text":"(b)","anchor":"start","frame":"bounds","font":"Liberation Sans","fontSize":19,"fontWeight":"normal","color":"#000","dx":-15,"dy":20,"offset":0},
"layer":[
{"data":{"name":"b"},"mark":{"type":"point","shape":"M-1,-0.5H1V0.5H-1Z","size":225,"filled":true,"opacity":1,"strokeWidth":0,"clip":true},
"encoding":{
"x":{"field":"x","type":"quantitative","scale":{"domain":[0,1.5],"nice":false,"zero":false},"axis":{"values":[0,0.3,0.6,0.9,1.2,1.5],"format":".1f","title":"Injection Volume (mL)","labelPadding":8,"titlePadding":19}},
"y":{"field":"y","type":"quantitative","scale":{"domain":[0,0.6],"nice":false,"zero":false},"axis":{"values":[0,0.1,0.2,0.3,0.4,0.5,0.6],"format":".1f","title":"Orifice Diameter (mm)","labelPadding":3,"titlePadding":12}},
"color":{"field":"v","type":"quantitative","scale":{"domain":[10,31,52,73,95],"range":["#0000ff","#00ffff","#00ff00","#ffff00","#ff0000"],"clamp":true,"interpolate":"rgb"},"legend":null}}},
{"data":{"name":"cb"},"mark":{"type":"line","color":"#1a1a1a","strokeWidth":0.9,"clip":true,"interpolate":"catmull-rom"},
"encoding":{
"x":{"field":"x","type":"quantitative","axis":{"orient":"top","title":"Percent Delivery (%)","titleFontSize":18,"domain":false,"ticks":false,"labels":false,"titlePadding":0}},
"y":{"field":"y","type":"quantitative","axis":null},
"detail":{"field":"c"},"order":{"field":"o"}}},
{"data":{"name":"lb"},"transform":[{"filter":"length(datum.t) > 1"}],"mark":{"type":"point","shape":"M-1,-0.73H1V0.73H-1Z","size":225,"filled":true,"fill":"#fff","stroke":"#444","strokeWidth":1,"opacity":1},
"encoding":{"x":{"field":"x","type":"quantitative","axis":null},"y":{"field":"y","type":"quantitative","axis":null}}},
{"data":{"name":"lb"},"transform":[{"filter":"length(datum.t) == 1"}],"mark":{"type":"point","shape":"M-1,-1.2H1V1.2H-1Z","size":81,"filled":true,"fill":"#fff","stroke":"#444","strokeWidth":1,"opacity":1},
"encoding":{"x":{"field":"x","type":"quantitative","axis":null},"y":{"field":"y","type":"quantitative","axis":null}}},
{"data":{"name":"lb"},"mark":{"type":"text","font":"Liberation Serif, Times New Roman, serif","fontSize":11,"color":"#222","baseline":"middle","align":"center","dy":0.5},
"encoding":{"x":{"field":"x","type":"quantitative","axis":null},"y":{"field":"y","type":"quantitative","axis":null},"text":{"field":"t"}}}
],
"resolve":{"axis":{"x":"independent","y":"independent"}}
}
],
"spacing":94,
"bounds":"flush"
}
